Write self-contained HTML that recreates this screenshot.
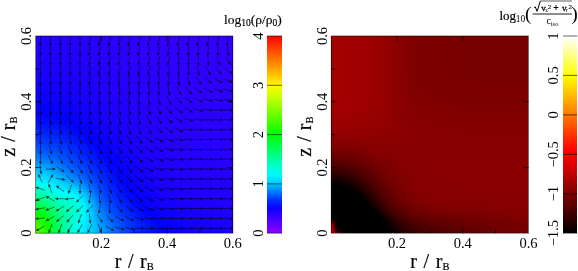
<!DOCTYPE html>
<html><head><meta charset="utf-8"><style>
html,body{margin:0;padding:0;background:#fff}
body{width:578px;height:271px;overflow:hidden;position:relative;font-family:"Liberation Serif",serif}
.hm{position:absolute}
.hm div{width:100%}
svg{position:absolute;left:0;top:0;will-change:transform}
svg text{font-family:"Liberation Serif",serif;fill:#000}
</style></head><body>
<div class="hm" style="left:36px;top:36px;width:197px;height:197px">
<div style="height:2px;background:linear-gradient(90deg,#2400ff 0px,#2400ff 6px,#2400ff 12px,#2400ff 18px,#2500ff 24px,#2500ff 30px,#2600ff 36px,#2700ff 42px,#2700ff 48px,#2800ff 54px,#2900ff 60px,#2a00ff 66px,#2b00ff 72px,#2c00ff 78px,#2c00ff 84px,#2d00ff 90px,#2e00ff 96px,#2e00ff 102px,#2f00ff 108px,#2f00ff 114px,#3000ff 120px,#3000ff 126px,#3100ff 132px,#3100ff 138px,#3100ff 144px,#3200ff 150px,#3200ff 156px,#3200ff 162px,#3200ff 168px,#3200ff 174px,#3200ff 180px,#3300ff 186px,#3300ff 192px,#3300ff 197px)"></div>
<div style="height:2px;background:linear-gradient(90deg,#2300ff 0px,#2300ff 6px,#2400ff 12px,#2400ff 18px,#2400ff 24px,#2500ff 30px,#2600ff 36px,#2600ff 42px,#2700ff 48px,#2800ff 54px,#2900ff 60px,#2a00ff 66px,#2b00ff 72px,#2b00ff 78px,#2c00ff 84px,#2d00ff 90px,#2e00ff 96px,#2e00ff 102px,#2f00ff 108px,#2f00ff 114px,#3000ff 120px,#3000ff 126px,#3100ff 132px,#3100ff 138px,#3100ff 144px,#3100ff 150px,#3200ff 156px,#3200ff 162px,#3200ff 168px,#3200ff 174px,#3200ff 180px,#3200ff 186px,#3200ff 192px,#3200ff 197px)"></div>
<div style="height:2px;background:linear-gradient(90deg,#2300ff 0px,#2300ff 6px,#2300ff 12px,#2400ff 18px,#2400ff 24px,#2500ff 30px,#2500ff 36px,#2600ff 42px,#2700ff 48px,#2800ff 54px,#2900ff 60px,#2900ff 66px,#2a00ff 72px,#2b00ff 78px,#2c00ff 84px,#2d00ff 90px,#2d00ff 96px,#2e00ff 102px,#2f00ff 108px,#2f00ff 114px,#3000ff 120px,#3000ff 126px,#3000ff 132px,#3100ff 138px,#3100ff 144px,#3100ff 150px,#3200ff 156px,#3200ff 162px,#3200ff 168px,#3200ff 174px,#3200ff 180px,#3200ff 186px,#3200ff 192px,#3200ff 197px)"></div>
<div style="height:2px;background:linear-gradient(90deg,#2300ff 0px,#2300ff 6px,#2300ff 12px,#2300ff 18px,#2400ff 24px,#2400ff 30px,#2500ff 36px,#2600ff 42px,#2700ff 48px,#2700ff 54px,#2800ff 60px,#2900ff 66px,#2a00ff 72px,#2b00ff 78px,#2c00ff 84px,#2c00ff 90px,#2d00ff 96px,#2e00ff 102px,#2e00ff 108px,#2f00ff 114px,#2f00ff 120px,#3000ff 126px,#3000ff 132px,#3100ff 138px,#3100ff 144px,#3100ff 150px,#3100ff 156px,#3200ff 162px,#3200ff 168px,#3200ff 174px,#3200ff 180px,#3200ff 186px,#3200ff 192px,#3200ff 197px)"></div>
<div style="height:2px;background:linear-gradient(90deg,#2200ff 0px,#2200ff 6px,#2200ff 12px,#2300ff 18px,#2300ff 24px,#2400ff 30px,#2500ff 36px,#2500ff 42px,#2600ff 48px,#2700ff 54px,#2800ff 60px,#2900ff 66px,#2a00ff 72px,#2b00ff 78px,#2b00ff 84px,#2c00ff 90px,#2d00ff 96px,#2e00ff 102px,#2e00ff 108px,#2f00ff 114px,#2f00ff 120px,#3000ff 126px,#3000ff 132px,#3000ff 138px,#3100ff 144px,#3100ff 150px,#3100ff 156px,#3100ff 162px,#3100ff 168px,#3200ff 174px,#3200ff 180px,#3200ff 186px,#3200ff 192px,#3200ff 197px)"></div>
<div style="height:2px;background:linear-gradient(90deg,#2200ff 0px,#2200ff 6px,#2200ff 12px,#2200ff 18px,#2300ff 24px,#2300ff 30px,#2400ff 36px,#2500ff 42px,#2600ff 48px,#2700ff 54px,#2800ff 60px,#2900ff 66px,#2900ff 72px,#2a00ff 78px,#2b00ff 84px,#2c00ff 90px,#2d00ff 96px,#2d00ff 102px,#2e00ff 108px,#2f00ff 114px,#2f00ff 120px,#2f00ff 126px,#3000ff 132px,#3000ff 138px,#3000ff 144px,#3100ff 150px,#3100ff 156px,#3100ff 162px,#3100ff 168px,#3100ff 174px,#3200ff 180px,#3200ff 186px,#3200ff 192px,#3200ff 197px)"></div>
<div style="height:2px;background:linear-gradient(90deg,#2100ff 0px,#2100ff 6px,#2100ff 12px,#2200ff 18px,#2200ff 24px,#2300ff 30px,#2400ff 36px,#2500ff 42px,#2600ff 48px,#2600ff 54px,#2700ff 60px,#2800ff 66px,#2900ff 72px,#2a00ff 78px,#2b00ff 84px,#2c00ff 90px,#2c00ff 96px,#2d00ff 102px,#2e00ff 108px,#2e00ff 114px,#2f00ff 120px,#2f00ff 126px,#3000ff 132px,#3000ff 138px,#3000ff 144px,#3100ff 150px,#3100ff 156px,#3100ff 162px,#3100ff 168px,#3100ff 174px,#3100ff 180px,#3100ff 186px,#3200ff 192px,#3200ff 197px)"></div>
<div style="height:2px;background:linear-gradient(90deg,#2100ff 0px,#2100ff 6px,#2100ff 12px,#2100ff 18px,#2200ff 24px,#2300ff 30px,#2300ff 36px,#2400ff 42px,#2500ff 48px,#2600ff 54px,#2700ff 60px,#2800ff 66px,#2900ff 72px,#2a00ff 78px,#2b00ff 84px,#2b00ff 90px,#2c00ff 96px,#2d00ff 102px,#2e00ff 108px,#2e00ff 114px,#2f00ff 120px,#2f00ff 126px,#2f00ff 132px,#3000ff 138px,#3000ff 144px,#3000ff 150px,#3100ff 156px,#3100ff 162px,#3100ff 168px,#3100ff 174px,#3100ff 180px,#3100ff 186px,#3100ff 192px,#3100ff 197px)"></div>
<div style="height:2px;background:linear-gradient(90deg,#2000ff 0px,#2000ff 6px,#2100ff 12px,#2100ff 18px,#2100ff 24px,#2200ff 30px,#2300ff 36px,#2400ff 42px,#2500ff 48px,#2600ff 54px,#2700ff 60px,#2800ff 66px,#2900ff 72px,#2a00ff 78px,#2a00ff 84px,#2b00ff 90px,#2c00ff 96px,#2d00ff 102px,#2d00ff 108px,#2e00ff 114px,#2e00ff 120px,#2f00ff 126px,#2f00ff 132px,#3000ff 138px,#3000ff 144px,#3000ff 150px,#3000ff 156px,#3100ff 162px,#3100ff 168px,#3100ff 174px,#3100ff 180px,#3100ff 186px,#3100ff 192px,#3100ff 197px)"></div>
<div style="height:2px;background:linear-gradient(90deg,#2000ff 0px,#2000ff 6px,#2000ff 12px,#2000ff 18px,#2100ff 24px,#2200ff 30px,#2300ff 36px,#2300ff 42px,#2400ff 48px,#2500ff 54px,#2600ff 60px,#2700ff 66px,#2800ff 72px,#2900ff 78px,#2a00ff 84px,#2b00ff 90px,#2c00ff 96px,#2d00ff 102px,#2d00ff 108px,#2e00ff 114px,#2e00ff 120px,#2f00ff 126px,#2f00ff 132px,#2f00ff 138px,#3000ff 144px,#3000ff 150px,#3000ff 156px,#3000ff 162px,#3100ff 168px,#3100ff 174px,#3100ff 180px,#3100ff 186px,#3100ff 192px,#3100ff 197px)"></div>
<div style="height:2px;background:linear-gradient(90deg,#1f00ff 0px,#1f00ff 6px,#1f00ff 12px,#2000ff 18px,#2000ff 24px,#2100ff 30px,#2200ff 36px,#2300ff 42px,#2400ff 48px,#2500ff 54px,#2600ff 60px,#2700ff 66px,#2800ff 72px,#2900ff 78px,#2a00ff 84px,#2b00ff 90px,#2c00ff 96px,#2c00ff 102px,#2d00ff 108px,#2e00ff 114px,#2e00ff 120px,#2e00ff 126px,#2f00ff 132px,#2f00ff 138px,#3000ff 144px,#3000ff 150px,#3000ff 156px,#3000ff 162px,#3000ff 168px,#3100ff 174px,#3100ff 180px,#3100ff 186px,#3100ff 192px,#3100ff 197px)"></div>
<div style="height:2px;background:linear-gradient(90deg,#1e00ff 0px,#1f00ff 6px,#1f00ff 12px,#1f00ff 18px,#2000ff 24px,#2100ff 30px,#2200ff 36px,#2300ff 42px,#2400ff 48px,#2500ff 54px,#2600ff 60px,#2700ff 66px,#2800ff 72px,#2900ff 78px,#2a00ff 84px,#2b00ff 90px,#2b00ff 96px,#2c00ff 102px,#2d00ff 108px,#2d00ff 114px,#2e00ff 120px,#2e00ff 126px,#2f00ff 132px,#2f00ff 138px,#2f00ff 144px,#3000ff 150px,#3000ff 156px,#3000ff 162px,#3000ff 168px,#3000ff 174px,#3000ff 180px,#3100ff 186px,#3100ff 192px,#3100ff 197px)"></div>
<div style="height:2px;background:linear-gradient(90deg,#1e00ff 0px,#1e00ff 6px,#1e00ff 12px,#1f00ff 18px,#1f00ff 24px,#2000ff 30px,#2100ff 36px,#2200ff 42px,#2300ff 48px,#2400ff 54px,#2500ff 60px,#2600ff 66px,#2700ff 72px,#2800ff 78px,#2900ff 84px,#2a00ff 90px,#2b00ff 96px,#2c00ff 102px,#2d00ff 108px,#2d00ff 114px,#2e00ff 120px,#2e00ff 126px,#2f00ff 132px,#2f00ff 138px,#2f00ff 144px,#2f00ff 150px,#3000ff 156px,#3000ff 162px,#3000ff 168px,#3000ff 174px,#3000ff 180px,#3000ff 186px,#3000ff 192px,#3100ff 197px)"></div>
<div style="height:2px;background:linear-gradient(90deg,#1d00ff 0px,#1d00ff 6px,#1e00ff 12px,#1e00ff 18px,#1f00ff 24px,#2000ff 30px,#2100ff 36px,#2200ff 42px,#2300ff 48px,#2400ff 54px,#2500ff 60px,#2600ff 66px,#2700ff 72px,#2800ff 78px,#2900ff 84px,#2a00ff 90px,#2b00ff 96px,#2c00ff 102px,#2c00ff 108px,#2d00ff 114px,#2d00ff 120px,#2e00ff 126px,#2e00ff 132px,#2f00ff 138px,#2f00ff 144px,#2f00ff 150px,#2f00ff 156px,#3000ff 162px,#3000ff 168px,#3000ff 174px,#3000ff 180px,#3000ff 186px,#3000ff 192px,#3000ff 197px)"></div>
<div style="height:2px;background:linear-gradient(90deg,#1d00ff 0px,#1d00ff 6px,#1d00ff 12px,#1e00ff 18px,#1e00ff 24px,#1f00ff 30px,#2000ff 36px,#2100ff 42px,#2200ff 48px,#2300ff 54px,#2500ff 60px,#2600ff 66px,#2700ff 72px,#2800ff 78px,#2900ff 84px,#2a00ff 90px,#2b00ff 96px,#2b00ff 102px,#2c00ff 108px,#2d00ff 114px,#2d00ff 120px,#2e00ff 126px,#2e00ff 132px,#2f00ff 138px,#2f00ff 144px,#2f00ff 150px,#2f00ff 156px,#3000ff 162px,#3000ff 168px,#3000ff 174px,#3000ff 180px,#3000ff 186px,#3000ff 192px,#3000ff 197px)"></div>
<div style="height:2px;background:linear-gradient(90deg,#1c00ff 0px,#1c00ff 6px,#1c00ff 12px,#1d00ff 18px,#1e00ff 24px,#1e00ff 30px,#1f00ff 36px,#2100ff 42px,#2200ff 48px,#2300ff 54px,#2400ff 60px,#2500ff 66px,#2600ff 72px,#2800ff 78px,#2900ff 84px,#2a00ff 90px,#2a00ff 96px,#2b00ff 102px,#2c00ff 108px,#2c00ff 114px,#2d00ff 120px,#2e00ff 126px,#2e00ff 132px,#2e00ff 138px,#2f00ff 144px,#2f00ff 150px,#2f00ff 156px,#2f00ff 162px,#2f00ff 168px,#3000ff 174px,#3000ff 180px,#3000ff 186px,#3000ff 192px,#3000ff 197px)"></div>
<div style="height:2px;background:linear-gradient(90deg,#1b00ff 0px,#1b00ff 6px,#1c00ff 12px,#1c00ff 18px,#1d00ff 24px,#1e00ff 30px,#1f00ff 36px,#2000ff 42px,#2100ff 48px,#2200ff 54px,#2400ff 60px,#2500ff 66px,#2600ff 72px,#2700ff 78px,#2800ff 84px,#2900ff 90px,#2a00ff 96px,#2b00ff 102px,#2c00ff 108px,#2c00ff 114px,#2d00ff 120px,#2d00ff 126px,#2e00ff 132px,#2e00ff 138px,#2e00ff 144px,#2f00ff 150px,#2f00ff 156px,#2f00ff 162px,#2f00ff 168px,#2f00ff 174px,#3000ff 180px,#3000ff 186px,#3000ff 192px,#3000ff 197px)"></div>
<div style="height:2px;background:linear-gradient(90deg,#1a00ff 0px,#1b00ff 6px,#1b00ff 12px,#1b00ff 18px,#1c00ff 24px,#1d00ff 30px,#1e00ff 36px,#1f00ff 42px,#2100ff 48px,#2200ff 54px,#2300ff 60px,#2500ff 66px,#2600ff 72px,#2700ff 78px,#2800ff 84px,#2900ff 90px,#2a00ff 96px,#2b00ff 102px,#2b00ff 108px,#2c00ff 114px,#2d00ff 120px,#2d00ff 126px,#2e00ff 132px,#2e00ff 138px,#2e00ff 144px,#2f00ff 150px,#2f00ff 156px,#2f00ff 162px,#2f00ff 168px,#2f00ff 174px,#2f00ff 180px,#2f00ff 186px,#3000ff 192px,#3000ff 197px)"></div>
<div style="height:2px;background:linear-gradient(90deg,#1a00ff 0px,#1a00ff 6px,#1a00ff 12px,#1b00ff 18px,#1c00ff 24px,#1d00ff 30px,#1e00ff 36px,#1f00ff 42px,#2000ff 48px,#2200ff 54px,#2300ff 60px,#2400ff 66px,#2500ff 72px,#2700ff 78px,#2800ff 84px,#2900ff 90px,#2a00ff 96px,#2a00ff 102px,#2b00ff 108px,#2c00ff 114px,#2c00ff 120px,#2d00ff 126px,#2d00ff 132px,#2e00ff 138px,#2e00ff 144px,#2e00ff 150px,#2f00ff 156px,#2f00ff 162px,#2f00ff 168px,#2f00ff 174px,#2f00ff 180px,#2f00ff 186px,#2f00ff 192px,#2f00ff 197px)"></div>
<div style="height:2px;background:linear-gradient(90deg,#1900ff 0px,#1900ff 6px,#1900ff 12px,#1a00ff 18px,#1b00ff 24px,#1c00ff 30px,#1d00ff 36px,#1e00ff 42px,#2000ff 48px,#2100ff 54px,#2200ff 60px,#2400ff 66px,#2500ff 72px,#2600ff 78px,#2700ff 84px,#2800ff 90px,#2900ff 96px,#2a00ff 102px,#2b00ff 108px,#2c00ff 114px,#2c00ff 120px,#2d00ff 126px,#2d00ff 132px,#2e00ff 138px,#2e00ff 144px,#2e00ff 150px,#2e00ff 156px,#2f00ff 162px,#2f00ff 168px,#2f00ff 174px,#2f00ff 180px,#2f00ff 186px,#2f00ff 192px,#2f00ff 197px)"></div>
<div style="height:2px;background:linear-gradient(90deg,#1800ff 0px,#1800ff 6px,#1800ff 12px,#1900ff 18px,#1a00ff 24px,#1b00ff 30px,#1c00ff 36px,#1e00ff 42px,#1f00ff 48px,#2000ff 54px,#2200ff 60px,#2300ff 66px,#2500ff 72px,#2600ff 78px,#2700ff 84px,#2800ff 90px,#2900ff 96px,#2a00ff 102px,#2b00ff 108px,#2b00ff 114px,#2c00ff 120px,#2d00ff 126px,#2d00ff 132px,#2d00ff 138px,#2e00ff 144px,#2e00ff 150px,#2e00ff 156px,#2e00ff 162px,#2f00ff 168px,#2f00ff 174px,#2f00ff 180px,#2f00ff 186px,#2f00ff 192px,#2f00ff 197px)"></div>
<div style="height:2px;background:linear-gradient(90deg,#1700ff 0px,#1700ff 6px,#1800ff 12px,#1800ff 18px,#1900ff 24px,#1a00ff 30px,#1c00ff 36px,#1d00ff 42px,#1e00ff 48px,#2000ff 54px,#2100ff 60px,#2300ff 66px,#2400ff 72px,#2600ff 78px,#2700ff 84px,#2800ff 90px,#2900ff 96px,#2a00ff 102px,#2a00ff 108px,#2b00ff 114px,#2c00ff 120px,#2c00ff 126px,#2d00ff 132px,#2d00ff 138px,#2d00ff 144px,#2e00ff 150px,#2e00ff 156px,#2e00ff 162px,#2e00ff 168px,#2f00ff 174px,#2f00ff 180px,#2f00ff 186px,#2f00ff 192px,#2f00ff 197px)"></div>
<div style="height:2px;background:linear-gradient(90deg,#1600ff 0px,#1600ff 6px,#1700ff 12px,#1700ff 18px,#1800ff 24px,#1a00ff 30px,#1b00ff 36px,#1c00ff 42px,#1e00ff 48px,#1f00ff 54px,#2100ff 60px,#2200ff 66px,#2400ff 72px,#2500ff 78px,#2600ff 84px,#2800ff 90px,#2900ff 96px,#2900ff 102px,#2a00ff 108px,#2b00ff 114px,#2c00ff 120px,#2c00ff 126px,#2d00ff 132px,#2d00ff 138px,#2d00ff 144px,#2e00ff 150px,#2e00ff 156px,#2e00ff 162px,#2e00ff 168px,#2e00ff 174px,#2e00ff 180px,#2f00ff 186px,#2f00ff 192px,#2f00ff 197px)"></div>
<div style="height:2px;background:linear-gradient(90deg,#1500ff 0px,#1500ff 6px,#1600ff 12px,#1600ff 18px,#1700ff 24px,#1900ff 30px,#1a00ff 36px,#1c00ff 42px,#1d00ff 48px,#1f00ff 54px,#2000ff 60px,#2200ff 66px,#2300ff 72px,#2500ff 78px,#2600ff 84px,#2700ff 90px,#2800ff 96px,#2900ff 102px,#2a00ff 108px,#2b00ff 114px,#2b00ff 120px,#2c00ff 126px,#2c00ff 132px,#2d00ff 138px,#2d00ff 144px,#2d00ff 150px,#2e00ff 156px,#2e00ff 162px,#2e00ff 168px,#2e00ff 174px,#2e00ff 180px,#2e00ff 186px,#2e00ff 192px,#2f00ff 197px)"></div>
<div style="height:2px;background:linear-gradient(90deg,#1400ff 0px,#1400ff 6px,#1500ff 12px,#1500ff 18px,#1700ff 24px,#1800ff 30px,#1900ff 36px,#1b00ff 42px,#1c00ff 48px,#1e00ff 54px,#2000ff 60px,#2100ff 66px,#2300ff 72px,#2400ff 78px,#2600ff 84px,#2700ff 90px,#2800ff 96px,#2900ff 102px,#2a00ff 108px,#2b00ff 114px,#2b00ff 120px,#2c00ff 126px,#2c00ff 132px,#2d00ff 138px,#2d00ff 144px,#2d00ff 150px,#2d00ff 156px,#2e00ff 162px,#2e00ff 168px,#2e00ff 174px,#2e00ff 180px,#2e00ff 186px,#2e00ff 192px,#2e00ff 197px)"></div>
<div style="height:2px;background:linear-gradient(90deg,#1300ff 0px,#1300ff 6px,#1400ff 12px,#1400ff 18px,#1600ff 24px,#1700ff 30px,#1800ff 36px,#1a00ff 42px,#1c00ff 48px,#1d00ff 54px,#1f00ff 60px,#2100ff 66px,#2200ff 72px,#2400ff 78px,#2500ff 84px,#2700ff 90px,#2800ff 96px,#2900ff 102px,#2a00ff 108px,#2a00ff 114px,#2b00ff 120px,#2b00ff 126px,#2c00ff 132px,#2c00ff 138px,#2d00ff 144px,#2d00ff 150px,#2d00ff 156px,#2d00ff 162px,#2e00ff 168px,#2e00ff 174px,#2e00ff 180px,#2e00ff 186px,#2e00ff 192px,#2e00ff 197px)"></div>
<div style="height:2px;background:linear-gradient(90deg,#1200ff 0px,#1200ff 6px,#1300ff 12px,#1300ff 18px,#1500ff 24px,#1600ff 30px,#1700ff 36px,#1900ff 42px,#1b00ff 48px,#1d00ff 54px,#1f00ff 60px,#2000ff 66px,#2200ff 72px,#2400ff 78px,#2500ff 84px,#2600ff 90px,#2700ff 96px,#2800ff 102px,#2900ff 108px,#2a00ff 114px,#2b00ff 120px,#2b00ff 126px,#2c00ff 132px,#2c00ff 138px,#2d00ff 144px,#2d00ff 150px,#2d00ff 156px,#2d00ff 162px,#2d00ff 168px,#2e00ff 174px,#2e00ff 180px,#2e00ff 186px,#2e00ff 192px,#2e00ff 197px)"></div>
<div style="height:2px;background:linear-gradient(90deg,#1100ff 0px,#1100ff 6px,#1100ff 12px,#1200ff 18px,#1300ff 24px,#1500ff 30px,#1700ff 36px,#1800ff 42px,#1a00ff 48px,#1c00ff 54px,#1e00ff 60px,#2000ff 66px,#2100ff 72px,#2300ff 78px,#2500ff 84px,#2600ff 90px,#2700ff 96px,#2800ff 102px,#2900ff 108px,#2a00ff 114px,#2a00ff 120px,#2b00ff 126px,#2c00ff 132px,#2c00ff 138px,#2c00ff 144px,#2d00ff 150px,#2d00ff 156px,#2d00ff 162px,#2d00ff 168px,#2d00ff 174px,#2e00ff 180px,#2e00ff 186px,#2e00ff 192px,#2e00ff 197px)"></div>
<div style="height:2px;background:linear-gradient(90deg,#0f00ff 0px,#1000ff 6px,#1000ff 12px,#1100ff 18px,#1200ff 24px,#1400ff 30px,#1600ff 36px,#1700ff 42px,#1900ff 48px,#1b00ff 54px,#1d00ff 60px,#1f00ff 66px,#2100ff 72px,#2300ff 78px,#2400ff 84px,#2500ff 90px,#2700ff 96px,#2800ff 102px,#2900ff 108px,#2a00ff 114px,#2a00ff 120px,#2b00ff 126px,#2b00ff 132px,#2c00ff 138px,#2c00ff 144px,#2c00ff 150px,#2d00ff 156px,#2d00ff 162px,#2d00ff 168px,#2d00ff 174px,#2d00ff 180px,#2d00ff 186px,#2e00ff 192px,#2e00ff 197px)"></div>
<div style="height:2px;background:linear-gradient(90deg,#0e00ff 0px,#0e00ff 6px,#0f00ff 12px,#1000ff 18px,#1100ff 24px,#1300ff 30px,#1500ff 36px,#1700ff 42px,#1900ff 48px,#1b00ff 54px,#1d00ff 60px,#1f00ff 66px,#2000ff 72px,#2200ff 78px,#2400ff 84px,#2500ff 90px,#2600ff 96px,#2700ff 102px,#2800ff 108px,#2900ff 114px,#2a00ff 120px,#2b00ff 126px,#2b00ff 132px,#2c00ff 138px,#2c00ff 144px,#2c00ff 150px,#2d00ff 156px,#2d00ff 162px,#2d00ff 168px,#2d00ff 174px,#2d00ff 180px,#2d00ff 186px,#2d00ff 192px,#2d00ff 197px)"></div>
<div style="height:2px;background:linear-gradient(90deg,#0d00ff 0px,#0d00ff 6px,#0e00ff 12px,#0f00ff 18px,#1000ff 24px,#1200ff 30px,#1400ff 36px,#1600ff 42px,#1800ff 48px,#1a00ff 54px,#1c00ff 60px,#1e00ff 66px,#2000ff 72px,#2200ff 78px,#2300ff 84px,#2500ff 90px,#2600ff 96px,#2700ff 102px,#2800ff 108px,#2900ff 114px,#2a00ff 120px,#2a00ff 126px,#2b00ff 132px,#2b00ff 138px,#2c00ff 144px,#2c00ff 150px,#2c00ff 156px,#2d00ff 162px,#2d00ff 168px,#2d00ff 174px,#2d00ff 180px,#2d00ff 186px,#2d00ff 192px,#2d00ff 197px)"></div>
<div style="height:2px;background:linear-gradient(90deg,#0b00ff 0px,#0c00ff 6px,#0c00ff 12px,#0d00ff 18px,#0f00ff 24px,#1000ff 30px,#1200ff 36px,#1500ff 42px,#1700ff 48px,#1900ff 54px,#1b00ff 60px,#1d00ff 66px,#1f00ff 72px,#2100ff 78px,#2300ff 84px,#2400ff 90px,#2600ff 96px,#2700ff 102px,#2800ff 108px,#2900ff 114px,#2a00ff 120px,#2a00ff 126px,#2b00ff 132px,#2b00ff 138px,#2c00ff 144px,#2c00ff 150px,#2c00ff 156px,#2c00ff 162px,#2d00ff 168px,#2d00ff 174px,#2d00ff 180px,#2d00ff 186px,#2d00ff 192px,#2d00ff 197px)"></div>
<div style="height:2px;background:linear-gradient(90deg,#0a00ff 0px,#0a00ff 6px,#0b00ff 12px,#0c00ff 18px,#0d00ff 24px,#0f00ff 30px,#1100ff 36px,#1400ff 42px,#1600ff 48px,#1800ff 54px,#1a00ff 60px,#1d00ff 66px,#1f00ff 72px,#2100ff 78px,#2200ff 84px,#2400ff 90px,#2500ff 96px,#2700ff 102px,#2800ff 108px,#2800ff 114px,#2900ff 120px,#2a00ff 126px,#2a00ff 132px,#2b00ff 138px,#2b00ff 144px,#2c00ff 150px,#2c00ff 156px,#2c00ff 162px,#2c00ff 168px,#2d00ff 174px,#2d00ff 180px,#2d00ff 186px,#2d00ff 192px,#2d00ff 197px)"></div>
<div style="height:2px;background:linear-gradient(90deg,#0800ff 0px,#0900ff 6px,#0900ff 12px,#0b00ff 18px,#0c00ff 24px,#0e00ff 30px,#1000ff 36px,#1200ff 42px,#1500ff 48px,#1700ff 54px,#1a00ff 60px,#1c00ff 66px,#1e00ff 72px,#2000ff 78px,#2200ff 84px,#2300ff 90px,#2500ff 96px,#2600ff 102px,#2700ff 108px,#2800ff 114px,#2900ff 120px,#2a00ff 126px,#2a00ff 132px,#2b00ff 138px,#2b00ff 144px,#2b00ff 150px,#2c00ff 156px,#2c00ff 162px,#2c00ff 168px,#2c00ff 174px,#2c00ff 180px,#2d00ff 186px,#2d00ff 192px,#2d00ff 197px)"></div>
<div style="height:2px;background:linear-gradient(90deg,#0700ff 0px,#0700ff 6px,#0800ff 12px,#0900ff 18px,#0b00ff 24px,#0d00ff 30px,#0f00ff 36px,#1100ff 42px,#1400ff 48px,#1600ff 54px,#1900ff 60px,#1b00ff 66px,#1d00ff 72px,#1f00ff 78px,#2100ff 84px,#2300ff 90px,#2500ff 96px,#2600ff 102px,#2700ff 108px,#2800ff 114px,#2900ff 120px,#2900ff 126px,#2a00ff 132px,#2b00ff 138px,#2b00ff 144px,#2b00ff 150px,#2c00ff 156px,#2c00ff 162px,#2c00ff 168px,#2c00ff 174px,#2c00ff 180px,#2c00ff 186px,#2c00ff 192px,#2d00ff 197px)"></div>
<div style="height:2px;background:linear-gradient(90deg,#0500ff 0px,#0500ff 6px,#0600ff 12px,#0700ff 18px,#0900ff 24px,#0b00ff 30px,#0e00ff 36px,#1000ff 42px,#1300ff 48px,#1500ff 54px,#1800ff 60px,#1a00ff 66px,#1d00ff 72px,#1f00ff 78px,#2100ff 84px,#2300ff 90px,#2400ff 96px,#2500ff 102px,#2700ff 108px,#2800ff 114px,#2800ff 120px,#2900ff 126px,#2a00ff 132px,#2a00ff 138px,#2b00ff 144px,#2b00ff 150px,#2b00ff 156px,#2c00ff 162px,#2c00ff 168px,#2c00ff 174px,#2c00ff 180px,#2c00ff 186px,#2c00ff 192px,#2c00ff 197px)"></div>
<div style="height:2px;background:linear-gradient(90deg,#0300ff 0px,#0400ff 6px,#0500ff 12px,#0600ff 18px,#0800ff 24px,#0a00ff 30px,#0c00ff 36px,#0f00ff 42px,#1200ff 48px,#1400ff 54px,#1700ff 60px,#1a00ff 66px,#1c00ff 72px,#1e00ff 78px,#2000ff 84px,#2200ff 90px,#2400ff 96px,#2500ff 102px,#2600ff 108px,#2700ff 114px,#2800ff 120px,#2900ff 126px,#2a00ff 132px,#2a00ff 138px,#2b00ff 144px,#2b00ff 150px,#2b00ff 156px,#2b00ff 162px,#2c00ff 168px,#2c00ff 174px,#2c00ff 180px,#2c00ff 186px,#2c00ff 192px,#2c00ff 197px)"></div>
<div style="height:2px;background:linear-gradient(90deg,#0200ff 0px,#0200ff 6px,#0300ff 12px,#0400ff 18px,#0600ff 24px,#0800ff 30px,#0b00ff 36px,#0e00ff 42px,#1000ff 48px,#1300ff 54px,#1600ff 60px,#1900ff 66px,#1b00ff 72px,#1e00ff 78px,#2000ff 84px,#2200ff 90px,#2300ff 96px,#2500ff 102px,#2600ff 108px,#2700ff 114px,#2800ff 120px,#2900ff 126px,#2900ff 132px,#2a00ff 138px,#2a00ff 144px,#2b00ff 150px,#2b00ff 156px,#2b00ff 162px,#2b00ff 168px,#2c00ff 174px,#2c00ff 180px,#2c00ff 186px,#2c00ff 192px,#2c00ff 197px)"></div>
<div style="height:2px;background:linear-gradient(90deg,#0000ff 0px,#0000ff 6px,#0100ff 12px,#0200ff 18px,#0400ff 24px,#0700ff 30px,#0900ff 36px,#0c00ff 42px,#0f00ff 48px,#1200ff 54px,#1500ff 60px,#1800ff 66px,#1b00ff 72px,#1d00ff 78px,#1f00ff 84px,#2100ff 90px,#2300ff 96px,#2400ff 102px,#2600ff 108px,#2700ff 114px,#2800ff 120px,#2800ff 126px,#2900ff 132px,#2a00ff 138px,#2a00ff 144px,#2a00ff 150px,#2b00ff 156px,#2b00ff 162px,#2b00ff 168px,#2b00ff 174px,#2c00ff 180px,#2c00ff 186px,#2c00ff 192px,#2c00ff 197px)"></div>
<div style="height:2px;background:linear-gradient(90deg,#0004ff 0px,#0003ff 6px,#0002ff 12px,#0100ff 18px,#0300ff 24px,#0500ff 30px,#0800ff 36px,#0b00ff 42px,#0e00ff 48px,#1100ff 54px,#1400ff 60px,#1700ff 66px,#1a00ff 72px,#1c00ff 78px,#1f00ff 84px,#2100ff 90px,#2200ff 96px,#2400ff 102px,#2500ff 108px,#2600ff 114px,#2700ff 120px,#2800ff 126px,#2900ff 132px,#2900ff 138px,#2a00ff 144px,#2a00ff 150px,#2b00ff 156px,#2b00ff 162px,#2b00ff 168px,#2b00ff 174px,#2b00ff 180px,#2b00ff 186px,#2c00ff 192px,#2c00ff 197px)"></div>
<div style="height:2px;background:linear-gradient(90deg,#0007ff 0px,#0006ff 6px,#0005ff 12px,#0002ff 18px,#0100ff 24px,#0300ff 30px,#0600ff 36px,#0900ff 42px,#0d00ff 48px,#1000ff 54px,#1300ff 60px,#1600ff 66px,#1900ff 72px,#1c00ff 78px,#1e00ff 84px,#2000ff 90px,#2200ff 96px,#2400ff 102px,#2500ff 108px,#2600ff 114px,#2700ff 120px,#2800ff 126px,#2900ff 132px,#2900ff 138px,#2a00ff 144px,#2a00ff 150px,#2a00ff 156px,#2b00ff 162px,#2b00ff 168px,#2b00ff 174px,#2b00ff 180px,#2b00ff 186px,#2b00ff 192px,#2b00ff 197px)"></div>
<div style="height:2px;background:linear-gradient(90deg,#000aff 0px,#000aff 6px,#0008ff 12px,#0005ff 18px,#0002ff 24px,#0200ff 30px,#0500ff 36px,#0800ff 42px,#0b00ff 48px,#0f00ff 54px,#1200ff 60px,#1500ff 66px,#1800ff 72px,#1b00ff 78px,#1d00ff 84px,#2000ff 90px,#2100ff 96px,#2300ff 102px,#2500ff 108px,#2600ff 114px,#2700ff 120px,#2800ff 126px,#2800ff 132px,#2900ff 138px,#2900ff 144px,#2a00ff 150px,#2a00ff 156px,#2a00ff 162px,#2b00ff 168px,#2b00ff 174px,#2b00ff 180px,#2b00ff 186px,#2b00ff 192px,#2b00ff 197px)"></div>
<div style="height:2px;background:linear-gradient(90deg,#000eff 0px,#000dff 6px,#000bff 12px,#0009ff 18px,#0005ff 24px,#0000ff 30px,#0300ff 36px,#0600ff 42px,#0a00ff 48px,#0d00ff 54px,#1100ff 60px,#1400ff 66px,#1700ff 72px,#1a00ff 78px,#1d00ff 84px,#1f00ff 90px,#2100ff 96px,#2300ff 102px,#2400ff 108px,#2500ff 114px,#2600ff 120px,#2700ff 126px,#2800ff 132px,#2900ff 138px,#2900ff 144px,#2a00ff 150px,#2a00ff 156px,#2a00ff 162px,#2a00ff 168px,#2b00ff 174px,#2b00ff 180px,#2b00ff 186px,#2b00ff 192px,#2b00ff 197px)"></div>
<div style="height:2px;background:linear-gradient(90deg,#0011ff 0px,#0011ff 6px,#000fff 12px,#000cff 18px,#0008ff 24px,#0003ff 30px,#0100ff 36px,#0500ff 42px,#0800ff 48px,#0c00ff 54px,#1000ff 60px,#1300ff 66px,#1600ff 72px,#1900ff 78px,#1c00ff 84px,#1e00ff 90px,#2000ff 96px,#2200ff 102px,#2400ff 108px,#2500ff 114px,#2600ff 120px,#2700ff 126px,#2800ff 132px,#2800ff 138px,#2900ff 144px,#2900ff 150px,#2a00ff 156px,#2a00ff 162px,#2a00ff 168px,#2a00ff 174px,#2b00ff 180px,#2b00ff 186px,#2b00ff 192px,#2b00ff 197px)"></div>
<div style="height:2px;background:linear-gradient(90deg,#0015ff 0px,#0015ff 6px,#0013ff 12px,#0010ff 18px,#000bff 24px,#0007ff 30px,#0001ff 36px,#0300ff 42px,#0700ff 48px,#0b00ff 54px,#0e00ff 60px,#1200ff 66px,#1500ff 72px,#1800ff 78px,#1b00ff 84px,#1e00ff 90px,#2000ff 96px,#2200ff 102px,#2300ff 108px,#2500ff 114px,#2600ff 120px,#2700ff 126px,#2800ff 132px,#2800ff 138px,#2900ff 144px,#2900ff 150px,#2900ff 156px,#2a00ff 162px,#2a00ff 168px,#2a00ff 174px,#2a00ff 180px,#2a00ff 186px,#2b00ff 192px,#2b00ff 197px)"></div>
<div style="height:2px;background:linear-gradient(90deg,#0019ff 0px,#0018ff 6px,#0016ff 12px,#0013ff 18px,#000fff 24px,#000aff 30px,#0004ff 36px,#0100ff 42px,#0500ff 48px,#0900ff 54px,#0d00ff 60px,#1100ff 66px,#1400ff 72px,#1800ff 78px,#1b00ff 84px,#1d00ff 90px,#1f00ff 96px,#2100ff 102px,#2300ff 108px,#2400ff 114px,#2500ff 120px,#2600ff 126px,#2700ff 132px,#2800ff 138px,#2800ff 144px,#2900ff 150px,#2900ff 156px,#2a00ff 162px,#2a00ff 168px,#2a00ff 174px,#2a00ff 180px,#2a00ff 186px,#2a00ff 192px,#2a00ff 197px)"></div>
<div style="height:2px;background:linear-gradient(90deg,#001dff 0px,#001dff 6px,#001aff 12px,#0017ff 18px,#0013ff 24px,#000dff 30px,#0007ff 36px,#0001ff 42px,#0400ff 48px,#0800ff 54px,#0c00ff 60px,#1000ff 66px,#1300ff 72px,#1700ff 78px,#1a00ff 84px,#1c00ff 90px,#1f00ff 96px,#2100ff 102px,#2200ff 108px,#2400ff 114px,#2500ff 120px,#2600ff 126px,#2700ff 132px,#2800ff 138px,#2800ff 144px,#2900ff 150px,#2900ff 156px,#2900ff 162px,#2a00ff 168px,#2a00ff 174px,#2a00ff 180px,#2a00ff 186px,#2a00ff 192px,#2a00ff 197px)"></div>
<div style="height:2px;background:linear-gradient(90deg,#0022ff 0px,#0021ff 6px,#001fff 12px,#001bff 18px,#0016ff 24px,#0011ff 30px,#000bff 36px,#0004ff 42px,#0200ff 48px,#0600ff 54px,#0a00ff 60px,#0f00ff 66px,#1200ff 72px,#1600ff 78px,#1900ff 84px,#1c00ff 90px,#1e00ff 96px,#2000ff 102px,#2200ff 108px,#2400ff 114px,#2500ff 120px,#2600ff 126px,#2700ff 132px,#2700ff 138px,#2800ff 144px,#2800ff 150px,#2900ff 156px,#2900ff 162px,#2900ff 168px,#2a00ff 174px,#2a00ff 180px,#2a00ff 186px,#2a00ff 192px,#2a00ff 197px)"></div>
<div style="height:2px;background:linear-gradient(90deg,#0026ff 0px,#0025ff 6px,#0023ff 12px,#001fff 18px,#001aff 24px,#0014ff 30px,#000eff 36px,#0007ff 42px,#0000ff 48px,#0500ff 54px,#0900ff 60px,#0d00ff 66px,#1100ff 72px,#1500ff 78px,#1800ff 84px,#1b00ff 90px,#1e00ff 96px,#2000ff 102px,#2200ff 108px,#2300ff 114px,#2400ff 120px,#2500ff 126px,#2600ff 132px,#2700ff 138px,#2800ff 144px,#2800ff 150px,#2900ff 156px,#2900ff 162px,#2900ff 168px,#2900ff 174px,#2a00ff 180px,#2a00ff 186px,#2a00ff 192px,#2a00ff 197px)"></div>
<div style="height:2px;background:linear-gradient(90deg,#002bff 0px,#002aff 6px,#0027ff 12px,#0023ff 18px,#001eff 24px,#0018ff 30px,#0011ff 36px,#000aff 42px,#0003ff 48px,#0300ff 54px,#0800ff 60px,#0c00ff 66px,#1000ff 72px,#1400ff 78px,#1700ff 84px,#1a00ff 90px,#1d00ff 96px,#1f00ff 102px,#2100ff 108px,#2300ff 114px,#2400ff 120px,#2500ff 126px,#2600ff 132px,#2700ff 138px,#2700ff 144px,#2800ff 150px,#2800ff 156px,#2900ff 162px,#2900ff 168px,#2900ff 174px,#2900ff 180px,#2a00ff 186px,#2a00ff 192px,#2a00ff 197px)"></div>
<div style="height:2px;background:linear-gradient(90deg,#0030ff 0px,#002fff 6px,#002cff 12px,#0028ff 18px,#0023ff 24px,#001cff 30px,#0015ff 36px,#000eff 42px,#0006ff 48px,#0100ff 54px,#0600ff 60px,#0b00ff 66px,#0f00ff 72px,#1300ff 78px,#1600ff 84px,#1a00ff 90px,#1c00ff 96px,#1f00ff 102px,#2100ff 108px,#2200ff 114px,#2400ff 120px,#2500ff 126px,#2600ff 132px,#2700ff 138px,#2700ff 144px,#2800ff 150px,#2800ff 156px,#2900ff 162px,#2900ff 168px,#2900ff 174px,#2900ff 180px,#2900ff 186px,#2900ff 192px,#2a00ff 197px)"></div>
<div style="height:2px;background:linear-gradient(90deg,#0035ff 0px,#0034ff 6px,#0031ff 12px,#002dff 18px,#0027ff 24px,#0020ff 30px,#0019ff 36px,#0011ff 42px,#0009ff 48px,#0001ff 54px,#0500ff 60px,#0900ff 66px,#0e00ff 72px,#1200ff 78px,#1500ff 84px,#1900ff 90px,#1c00ff 96px,#1e00ff 102px,#2000ff 108px,#2200ff 114px,#2300ff 120px,#2400ff 126px,#2500ff 132px,#2600ff 138px,#2700ff 144px,#2700ff 150px,#2800ff 156px,#2800ff 162px,#2900ff 168px,#2900ff 174px,#2900ff 180px,#2900ff 186px,#2900ff 192px,#2900ff 197px)"></div>
<div style="height:2px;background:linear-gradient(90deg,#003aff 0px,#0039ff 6px,#0036ff 12px,#0031ff 18px,#002bff 24px,#0024ff 30px,#001dff 36px,#0015ff 42px,#000cff 48px,#0004ff 54px,#0300ff 60px,#0800ff 66px,#0c00ff 72px,#1100ff 78px,#1500ff 84px,#1800ff 90px,#1b00ff 96px,#1d00ff 102px,#2000ff 108px,#2100ff 114px,#2300ff 120px,#2400ff 126px,#2500ff 132px,#2600ff 138px,#2700ff 144px,#2700ff 150px,#2800ff 156px,#2800ff 162px,#2800ff 168px,#2900ff 174px,#2900ff 180px,#2900ff 186px,#2900ff 192px,#2900ff 197px)"></div>
<div style="height:2px;background:linear-gradient(90deg,#0040ff 0px,#003fff 6px,#003bff 12px,#0036ff 18px,#0030ff 24px,#0029ff 30px,#0021ff 36px,#0018ff 42px,#000fff 48px,#0007ff 54px,#0100ff 60px,#0600ff 66px,#0b00ff 72px,#1000ff 78px,#1400ff 84px,#1700ff 90px,#1a00ff 96px,#1d00ff 102px,#1f00ff 108px,#2100ff 114px,#2200ff 120px,#2400ff 126px,#2500ff 132px,#2600ff 138px,#2600ff 144px,#2700ff 150px,#2700ff 156px,#2800ff 162px,#2800ff 168px,#2800ff 174px,#2900ff 180px,#2900ff 186px,#2900ff 192px,#2900ff 197px)"></div>
<div style="height:2px;background:linear-gradient(90deg,#0046ff 0px,#0044ff 6px,#0041ff 12px,#003cff 18px,#0035ff 24px,#002dff 30px,#0025ff 36px,#001cff 42px,#0013ff 48px,#000aff 54px,#0001ff 60px,#0500ff 66px,#0a00ff 72px,#0e00ff 78px,#1300ff 84px,#1600ff 90px,#1900ff 96px,#1c00ff 102px,#1e00ff 108px,#2000ff 114px,#2200ff 120px,#2300ff 126px,#2400ff 132px,#2500ff 138px,#2600ff 144px,#2700ff 150px,#2700ff 156px,#2800ff 162px,#2800ff 168px,#2800ff 174px,#2800ff 180px,#2900ff 186px,#2900ff 192px,#2900ff 197px)"></div>
<div style="height:2px;background:linear-gradient(90deg,#004cff 0px,#004aff 6px,#0047ff 12px,#0041ff 18px,#003aff 24px,#0032ff 30px,#0029ff 36px,#0020ff 42px,#0016ff 48px,#000dff 54px,#0004ff 60px,#0300ff 66px,#0800ff 72px,#0d00ff 78px,#1100ff 84px,#1500ff 90px,#1900ff 96px,#1b00ff 102px,#1e00ff 108px,#2000ff 114px,#2200ff 120px,#2300ff 126px,#2400ff 132px,#2500ff 138px,#2600ff 144px,#2600ff 150px,#2700ff 156px,#2700ff 162px,#2800ff 168px,#2800ff 174px,#2800ff 180px,#2800ff 186px,#2800ff 192px,#2900ff 197px)"></div>
<div style="height:2px;background:linear-gradient(90deg,#0052ff 0px,#0051ff 6px,#004dff 12px,#0047ff 18px,#003fff 24px,#0037ff 30px,#002eff 36px,#0024ff 42px,#001aff 48px,#0010ff 54px,#0006ff 60px,#0200ff 66px,#0700ff 72px,#0c00ff 78px,#1000ff 84px,#1400ff 90px,#1800ff 96px,#1b00ff 102px,#1d00ff 108px,#1f00ff 114px,#2100ff 120px,#2300ff 126px,#2400ff 132px,#2500ff 138px,#2600ff 144px,#2600ff 150px,#2700ff 156px,#2700ff 162px,#2700ff 168px,#2800ff 174px,#2800ff 180px,#2800ff 186px,#2800ff 192px,#2800ff 197px)"></div>
<div style="height:2px;background:linear-gradient(90deg,#0059ff 0px,#0057ff 6px,#0053ff 12px,#004dff 18px,#0045ff 24px,#003cff 30px,#0032ff 36px,#0028ff 42px,#001eff 48px,#0013ff 54px,#0009ff 60px,#0000ff 66px,#0600ff 72px,#0b00ff 78px,#0f00ff 84px,#1300ff 90px,#1700ff 96px,#1a00ff 102px,#1d00ff 108px,#1f00ff 114px,#2100ff 120px,#2200ff 126px,#2300ff 132px,#2400ff 138px,#2500ff 144px,#2600ff 150px,#2600ff 156px,#2700ff 162px,#2700ff 168px,#2800ff 174px,#2800ff 180px,#2800ff 186px,#2800ff 192px,#2800ff 197px)"></div>
<div style="height:2px;background:linear-gradient(90deg,#0061ff 0px,#005fff 6px,#005aff 12px,#0053ff 18px,#004aff 24px,#0041ff 30px,#0037ff 36px,#002cff 42px,#0021ff 48px,#0017ff 54px,#000dff 60px,#0003ff 66px,#0400ff 72px,#0900ff 78px,#0e00ff 84px,#1200ff 90px,#1600ff 96px,#1900ff 102px,#1c00ff 108px,#1e00ff 114px,#2000ff 120px,#2200ff 126px,#2300ff 132px,#2400ff 138px,#2500ff 144px,#2600ff 150px,#2600ff 156px,#2700ff 162px,#2700ff 168px,#2700ff 174px,#2800ff 180px,#2800ff 186px,#2800ff 192px,#2800ff 197px)"></div>
<div style="height:2px;background:linear-gradient(90deg,#006aff 0px,#0068ff 6px,#0062ff 12px,#0059ff 18px,#0050ff 24px,#0046ff 30px,#003cff 36px,#0031ff 42px,#0025ff 48px,#001aff 54px,#0010ff 60px,#0005ff 66px,#0300ff 72px,#0800ff 78px,#0d00ff 84px,#1100ff 90px,#1500ff 96px,#1800ff 102px,#1b00ff 108px,#1e00ff 114px,#2000ff 120px,#2100ff 126px,#2300ff 132px,#2400ff 138px,#2500ff 144px,#2500ff 150px,#2600ff 156px,#2600ff 162px,#2700ff 168px,#2700ff 174px,#2700ff 180px,#2800ff 186px,#2800ff 192px,#2800ff 197px)"></div>
<div style="height:2px;background:linear-gradient(90deg,#0074ff 0px,#0071ff 6px,#006bff 12px,#0061ff 18px,#0056ff 24px,#004cff 30px,#0040ff 36px,#0035ff 42px,#0029ff 48px,#001eff 54px,#0013ff 60px,#0008ff 66px,#0100ff 72px,#0700ff 78px,#0c00ff 84px,#1000ff 90px,#1400ff 96px,#1800ff 102px,#1b00ff 108px,#1d00ff 114px,#1f00ff 120px,#2100ff 126px,#2200ff 132px,#2300ff 138px,#2400ff 144px,#2500ff 150px,#2600ff 156px,#2600ff 162px,#2700ff 168px,#2700ff 174px,#2700ff 180px,#2700ff 186px,#2700ff 192px,#2800ff 197px)"></div>
<div style="height:2px;background:linear-gradient(90deg,#007eff 0px,#007bff 6px,#0074ff 12px,#006aff 18px,#005dff 24px,#0051ff 30px,#0046ff 36px,#003aff 42px,#002eff 48px,#0022ff 54px,#0016ff 60px,#000bff 66px,#0001ff 72px,#0500ff 78px,#0b00ff 84px,#0f00ff 90px,#1300ff 96px,#1700ff 102px,#1a00ff 108px,#1c00ff 114px,#1f00ff 120px,#2000ff 126px,#2200ff 132px,#2300ff 138px,#2400ff 144px,#2500ff 150px,#2500ff 156px,#2600ff 162px,#2600ff 168px,#2700ff 174px,#2700ff 180px,#2700ff 186px,#2700ff 192px,#2700ff 197px)"></div>
<div style="height:2px;background:linear-gradient(90deg,#0088ff 0px,#0085ff 6px,#007dff 12px,#0072ff 18px,#0065ff 24px,#0057ff 30px,#004bff 36px,#003eff 42px,#0032ff 48px,#0026ff 54px,#001aff 60px,#000eff 66px,#0004ff 72px,#0400ff 78px,#0900ff 84px,#0e00ff 90px,#1200ff 96px,#1600ff 102px,#1900ff 108px,#1c00ff 114px,#1e00ff 120px,#2000ff 126px,#2100ff 132px,#2300ff 138px,#2400ff 144px,#2400ff 150px,#2500ff 156px,#2600ff 162px,#2600ff 168px,#2600ff 174px,#2700ff 180px,#2700ff 186px,#2700ff 192px,#2700ff 197px)"></div>
<div style="height:2px;background:linear-gradient(90deg,#0093ff 0px,#0090ff 6px,#0087ff 12px,#007bff 18px,#006dff 24px,#005eff 30px,#0050ff 36px,#0043ff 42px,#0036ff 48px,#0029ff 54px,#001dff 60px,#0011ff 66px,#0006ff 72px,#0200ff 78px,#0800ff 84px,#0d00ff 90px,#1100ff 96px,#1500ff 102px,#1900ff 108px,#1b00ff 114px,#1e00ff 120px,#1f00ff 126px,#2100ff 132px,#2200ff 138px,#2300ff 144px,#2400ff 150px,#2500ff 156px,#2500ff 162px,#2600ff 168px,#2600ff 174px,#2600ff 180px,#2700ff 186px,#2700ff 192px,#2700ff 197px)"></div>
<div style="height:2px;background:linear-gradient(90deg,#009fff 0px,#009bff 6px,#0092ff 12px,#0085ff 18px,#0075ff 24px,#0066ff 30px,#0056ff 36px,#0048ff 42px,#003bff 48px,#002eff 54px,#0021ff 60px,#0014ff 66px,#0009ff 72px,#0100ff 78px,#0700ff 84px,#0c00ff 90px,#1000ff 96px,#1400ff 102px,#1800ff 108px,#1b00ff 114px,#1d00ff 120px,#1f00ff 126px,#2100ff 132px,#2200ff 138px,#2300ff 144px,#2400ff 150px,#2500ff 156px,#2500ff 162px,#2600ff 168px,#2600ff 174px,#2600ff 180px,#2600ff 186px,#2700ff 192px,#2700ff 197px)"></div>
<div style="height:2px;background:linear-gradient(90deg,#00abff 0px,#00a7ff 6px,#009dff 12px,#008fff 18px,#007eff 24px,#006dff 30px,#005dff 36px,#004eff 42px,#0040ff 48px,#0032ff 54px,#0024ff 60px,#0018ff 66px,#000cff 72px,#0001ff 78px,#0500ff 84px,#0b00ff 90px,#0f00ff 96px,#1400ff 102px,#1700ff 108px,#1a00ff 114px,#1c00ff 120px,#1e00ff 126px,#2000ff 132px,#2100ff 138px,#2300ff 144px,#2400ff 150px,#2400ff 156px,#2500ff 162px,#2500ff 168px,#2600ff 174px,#2600ff 180px,#2600ff 186px,#2600ff 192px,#2700ff 197px)"></div>
<div style="height:2px;background:linear-gradient(90deg,#00b9ff 0px,#00b4ff 6px,#00a9ff 12px,#0099ff 18px,#0088ff 24px,#0076ff 30px,#0064ff 36px,#0054ff 42px,#0045ff 48px,#0036ff 54px,#0028ff 60px,#001bff 66px,#000fff 72px,#0004ff 78px,#0400ff 84px,#0a00ff 90px,#0e00ff 96px,#1300ff 102px,#1600ff 108px,#1900ff 114px,#1c00ff 120px,#1e00ff 126px,#2000ff 132px,#2100ff 138px,#2200ff 144px,#2300ff 150px,#2400ff 156px,#2500ff 162px,#2500ff 168px,#2500ff 174px,#2600ff 180px,#2600ff 186px,#2600ff 192px,#2600ff 197px)"></div>
<div style="height:2px;background:linear-gradient(90deg,#00c7ff 0px,#00c2ff 6px,#00b5ff 12px,#00a4ff 18px,#0091ff 24px,#007fff 30px,#006cff 36px,#005aff 42px,#004aff 48px,#003bff 54px,#002cff 60px,#001eff 66px,#0012ff 72px,#0006ff 78px,#0300ff 84px,#0800ff 90px,#0d00ff 96px,#1200ff 102px,#1500ff 108px,#1900ff 114px,#1b00ff 120px,#1d00ff 126px,#1f00ff 132px,#2100ff 138px,#2200ff 144px,#2300ff 150px,#2400ff 156px,#2400ff 162px,#2500ff 168px,#2500ff 174px,#2600ff 180px,#2600ff 186px,#2600ff 192px,#2600ff 197px)"></div>
<div style="height:2px;background:linear-gradient(90deg,#00d0ff 0px,#00cdff 6px,#00c2ff 12px,#00b0ff 18px,#009cff 24px,#0088ff 30px,#0075ff 36px,#0062ff 42px,#0050ff 48px,#003fff 54px,#0030ff 60px,#0022ff 66px,#0015ff 72px,#0009ff 78px,#0100ff 84px,#0700ff 90px,#0c00ff 96px,#1100ff 102px,#1500ff 108px,#1800ff 114px,#1b00ff 120px,#1d00ff 126px,#1f00ff 132px,#2000ff 138px,#2200ff 144px,#2300ff 150px,#2300ff 156px,#2400ff 162px,#2500ff 168px,#2500ff 174px,#2500ff 180px,#2600ff 186px,#2600ff 192px,#2600ff 197px)"></div>
<div style="height:2px;background:linear-gradient(90deg,#00d9ff 0px,#00d6ff 6px,#00cdff 12px,#00bcff 18px,#00a7ff 24px,#0092ff 30px,#007eff 36px,#006aff 42px,#0056ff 48px,#0045ff 54px,#0034ff 60px,#0025ff 66px,#0018ff 72px,#000bff 78px,#0000ff 84px,#0600ff 90px,#0b00ff 96px,#1000ff 102px,#1400ff 108px,#1700ff 114px,#1a00ff 120px,#1c00ff 126px,#1e00ff 132px,#2000ff 138px,#2100ff 144px,#2200ff 150px,#2300ff 156px,#2400ff 162px,#2400ff 168px,#2500ff 174px,#2500ff 180px,#2500ff 186px,#2600ff 192px,#2600ff 197px)"></div>
<div style="height:2px;background:linear-gradient(90deg,#00e3ff 0px,#00dfff 6px,#00d5ff 12px,#00c8ff 18px,#00b2ff 24px,#009dff 30px,#0089ff 36px,#0074ff 42px,#005eff 48px,#004aff 54px,#0039ff 60px,#0029ff 66px,#001bff 72px,#000eff 78px,#0003ff 84px,#0500ff 90px,#0a00ff 96px,#0f00ff 102px,#1300ff 108px,#1600ff 114px,#1900ff 120px,#1c00ff 126px,#1e00ff 132px,#1f00ff 138px,#2100ff 144px,#2200ff 150px,#2300ff 156px,#2300ff 162px,#2400ff 168px,#2400ff 174px,#2500ff 180px,#2500ff 186px,#2500ff 192px,#2600ff 197px)"></div>
<div style="height:2px;background:linear-gradient(90deg,#00edff 0px,#00e9ff 6px,#00deff 12px,#00d1ff 18px,#00bfff 24px,#00a9ff 30px,#0094ff 36px,#007eff 42px,#0067ff 48px,#0050ff 54px,#003dff 60px,#002dff 66px,#001eff 72px,#0011ff 78px,#0005ff 84px,#0300ff 90px,#0900ff 96px,#0e00ff 102px,#1200ff 108px,#1600ff 114px,#1900ff 120px,#1b00ff 126px,#1d00ff 132px,#1f00ff 138px,#2000ff 144px,#2100ff 150px,#2200ff 156px,#2300ff 162px,#2400ff 168px,#2400ff 174px,#2500ff 180px,#2500ff 186px,#2500ff 192px,#2500ff 197px)"></div>
<div style="height:2px;background:linear-gradient(90deg,#00f8ff 0px,#00f3ff 6px,#00e8ff 12px,#00d9ff 18px,#00caff 24px,#00b6ff 30px,#00a1ff 36px,#008aff 42px,#0070ff 48px,#0056ff 54px,#0042ff 60px,#0030ff 66px,#0021ff 72px,#0014ff 78px,#0008ff 84px,#0200ff 90px,#0800ff 96px,#0d00ff 102px,#1100ff 108px,#1500ff 114px,#1800ff 120px,#1b00ff 126px,#1d00ff 132px,#1e00ff 138px,#2000ff 144px,#2100ff 150px,#2200ff 156px,#2300ff 162px,#2300ff 168px,#2400ff 174px,#2400ff 180px,#2500ff 186px,#2500ff 192px,#2500ff 197px)"></div>
<div style="height:2px;background:linear-gradient(90deg,#00fff9 0px,#00ffff 6px,#00f2ff 12px,#00e2ff 18px,#00d3ff 24px,#00c5ff 30px,#00b0ff 36px,#0098ff 42px,#007bff 48px,#005eff 54px,#0047ff 60px,#0034ff 66px,#0024ff 72px,#0017ff 78px,#000aff 84px,#0000ff 90px,#0700ff 96px,#0c00ff 102px,#1000ff 108px,#1400ff 114px,#1700ff 120px,#1a00ff 126px,#1c00ff 132px,#1e00ff 138px,#1f00ff 144px,#2100ff 150px,#2200ff 156px,#2200ff 162px,#2300ff 168px,#2400ff 174px,#2400ff 180px,#2400ff 186px,#2500ff 192px,#2500ff 197px)"></div>
<div style="height:2px;background:linear-gradient(90deg,#00ffec 0px,#00fff2 6px,#00fdff 12px,#00ecff 18px,#00dcff 24px,#00cfff 30px,#00c0ff 36px,#00a6ff 42px,#0088ff 48px,#0067ff 54px,#004dff 60px,#0039ff 66px,#0028ff 72px,#0019ff 78px,#000dff 84px,#0002ff 90px,#0500ff 96px,#0b00ff 102px,#0f00ff 108px,#1300ff 114px,#1600ff 120px,#1900ff 126px,#1b00ff 132px,#1d00ff 138px,#1f00ff 144px,#2000ff 150px,#2100ff 156px,#2200ff 162px,#2300ff 168px,#2300ff 174px,#2400ff 180px,#2400ff 186px,#2400ff 192px,#2500ff 197px)"></div>
<div style="height:2px;background:linear-gradient(90deg,#00ffde 0px,#00ffe5 6px,#00fff5 12px,#00f5ff 18px,#00e5ff 24px,#00d9ff 30px,#00cdff 36px,#00b6ff 42px,#0095ff 48px,#0071ff 54px,#0052ff 60px,#003dff 66px,#002bff 72px,#001dff 78px,#000fff 84px,#0004ff 90px,#0400ff 96px,#0900ff 102px,#0e00ff 108px,#1200ff 114px,#1600ff 120px,#1800ff 126px,#1b00ff 132px,#1d00ff 138px,#1e00ff 144px,#2000ff 150px,#2100ff 156px,#2200ff 162px,#2200ff 168px,#2300ff 174px,#2300ff 180px,#2400ff 186px,#2400ff 192px,#2400ff 197px)"></div>
<div style="height:2px;background:linear-gradient(90deg,#00ffcf 0px,#00ffd7 6px,#00ffe8 12px,#00fffe 18px,#00f0ff 24px,#00e3ff 30px,#00d8ff 36px,#00c8ff 42px,#00a3ff 48px,#007bff 54px,#0058ff 60px,#0041ff 66px,#002fff 72px,#0020ff 78px,#0012ff 84px,#0006ff 90px,#0300ff 96px,#0800ff 102px,#0d00ff 108px,#1100ff 114px,#1500ff 120px,#1800ff 126px,#1a00ff 132px,#1c00ff 138px,#1e00ff 144px,#1f00ff 150px,#2000ff 156px,#2100ff 162px,#2200ff 168px,#2300ff 174px,#2300ff 180px,#2300ff 186px,#2400ff 192px,#2400ff 197px)"></div>
<div style="height:2px;background:linear-gradient(90deg,#00ffc0 0px,#00ffc8 6px,#00ffdb 12px,#00fff1 18px,#00faff 24px,#00efff 30px,#00e3ff 36px,#00d3ff 42px,#00b2ff 48px,#0086ff 54px,#0060ff 60px,#0046ff 66px,#0033ff 72px,#0023ff 78px,#0015ff 84px,#0009ff 90px,#0100ff 96px,#0700ff 102px,#0c00ff 108px,#1000ff 114px,#1400ff 120px,#1700ff 126px,#1900ff 132px,#1c00ff 138px,#1d00ff 144px,#1f00ff 150px,#2000ff 156px,#2100ff 162px,#2200ff 168px,#2200ff 174px,#2300ff 180px,#2300ff 186px,#2300ff 192px,#2400ff 197px)"></div>
<div style="height:2px;background:linear-gradient(90deg,#00ffb0 0px,#00ffb9 6px,#00ffcd 12px,#00ffe5 18px,#00fff8 24px,#00faff 30px,#00efff 36px,#00deff 42px,#00c1ff 48px,#0091ff 54px,#0067ff 60px,#004bff 66px,#0037ff 72px,#0026ff 78px,#0018ff 84px,#000cff 90px,#0001ff 96px,#0600ff 102px,#0b00ff 108px,#0f00ff 114px,#1300ff 120px,#1600ff 126px,#1900ff 132px,#1b00ff 138px,#1d00ff 144px,#1e00ff 150px,#1f00ff 156px,#2000ff 162px,#2100ff 168px,#2200ff 174px,#2200ff 180px,#2300ff 186px,#2300ff 192px,#2300ff 197px)"></div>
<div style="height:2px;background:linear-gradient(90deg,#00ffa0 0px,#00ffa9 6px,#00ffbf 12px,#00ffd8 18px,#00ffec 24px,#00fff7 30px,#00fbff 36px,#00e9ff 42px,#00cdff 48px,#009cff 54px,#006fff 60px,#004fff 66px,#003aff 72px,#002aff 78px,#001bff 84px,#000eff 90px,#0003ff 96px,#0400ff 102px,#0a00ff 108px,#0e00ff 114px,#1200ff 120px,#1500ff 126px,#1800ff 132px,#1a00ff 138px,#1c00ff 144px,#1d00ff 150px,#1f00ff 156px,#2000ff 162px,#2100ff 168px,#2100ff 174px,#2200ff 180px,#2200ff 186px,#2300ff 192px,#2300ff 197px)"></div>
<div style="height:2px;background:linear-gradient(90deg,#00ff8f 0px,#00ff99 6px,#00ffb0 12px,#00ffcb 18px,#00ffdf 24px,#00ffeb 30px,#00fff6 36px,#00f3ff 42px,#00d5ff 48px,#00a7ff 54px,#0077ff 60px,#0054ff 66px,#003fff 72px,#002dff 78px,#001eff 84px,#0011ff 90px,#0006ff 96px,#0300ff 102px,#0800ff 108px,#0d00ff 114px,#1100ff 120px,#1400ff 126px,#1700ff 132px,#1900ff 138px,#1b00ff 144px,#1d00ff 150px,#1e00ff 156px,#1f00ff 162px,#2000ff 168px,#2100ff 174px,#2100ff 180px,#2200ff 186px,#2200ff 192px,#2300ff 197px)"></div>
<div style="height:2px;background:linear-gradient(90deg,#00ff7e 0px,#00ff88 6px,#00ffa2 12px,#00ffbe 18px,#00ffd3 24px,#00ffdf 30px,#00ffea 36px,#00feff 42px,#00deff 48px,#00b1ff 54px,#007eff 60px,#0059ff 66px,#0043ff 72px,#0031ff 78px,#0022ff 84px,#0014ff 90px,#0008ff 96px,#0100ff 102px,#0700ff 108px,#0c00ff 114px,#1000ff 120px,#1300ff 126px,#1600ff 132px,#1800ff 138px,#1a00ff 144px,#1c00ff 150px,#1d00ff 156px,#1e00ff 162px,#1f00ff 168px,#2000ff 174px,#2100ff 180px,#2100ff 186px,#2200ff 192px,#2200ff 197px)"></div>
<div style="height:2px;background:linear-gradient(90deg,#00ff6c 0px,#00ff77 6px,#00ff93 12px,#00ffb1 18px,#00ffc8 24px,#00ffd4 30px,#00ffdf 36px,#00fff7 42px,#00e5ff 48px,#00baff 54px,#0085ff 60px,#005fff 66px,#0047ff 72px,#0035ff 78px,#0025ff 84px,#0017ff 90px,#000bff 96px,#0001ff 102px,#0500ff 108px,#0a00ff 114px,#0e00ff 120px,#1200ff 126px,#1500ff 132px,#1700ff 138px,#1900ff 144px,#1b00ff 150px,#1d00ff 156px,#1e00ff 162px,#1f00ff 168px,#2000ff 174px,#2000ff 180px,#2100ff 186px,#2100ff 192px,#2200ff 197px)"></div>
<div style="height:2px;background:linear-gradient(90deg,#00ff5a 0px,#00ff67 6px,#00ff84 12px,#00ffa5 18px,#00ffbd 24px,#00ffca 30px,#00ffd6 36px,#00ffee 42px,#00ebff 48px,#00c3ff 54px,#008cff 60px,#0065ff 66px,#004bff 72px,#0039ff 78px,#0029ff 84px,#001bff 90px,#000eff 96px,#0004ff 102px,#0400ff 108px,#0900ff 114px,#0d00ff 120px,#1100ff 126px,#1400ff 132px,#1600ff 138px,#1800ff 144px,#1a00ff 150px,#1c00ff 156px,#1d00ff 162px,#1e00ff 168px,#1f00ff 174px,#2000ff 180px,#2000ff 186px,#2100ff 192px,#2100ff 197px)"></div>
<div style="height:2px;background:linear-gradient(90deg,#00ff48 0px,#00ff56 6px,#00ff75 12px,#00ff98 18px,#00ffb3 24px,#00ffc2 30px,#00ffcf 36px,#00ffe8 42px,#00f0ff 48px,#00c9ff 54px,#0093ff 60px,#006bff 66px,#0050ff 72px,#003dff 78px,#002cff 84px,#001eff 90px,#0011ff 96px,#0006ff 102px,#0200ff 108px,#0700ff 114px,#0c00ff 120px,#0f00ff 126px,#1200ff 132px,#1500ff 138px,#1700ff 144px,#1900ff 150px,#1b00ff 156px,#1c00ff 162px,#1d00ff 168px,#1e00ff 174px,#1f00ff 180px,#2000ff 186px,#2000ff 192px,#2100ff 197px)"></div>
<div style="height:2px;background:linear-gradient(90deg,#00ff37 0px,#00ff45 6px,#00ff66 12px,#00ff8c 18px,#00ffa9 24px,#00ffba 30px,#00ffc9 36px,#00ffe3 42px,#00f4ff 48px,#00cdff 54px,#0099ff 60px,#0070ff 66px,#0054ff 72px,#0041ff 78px,#0030ff 84px,#0022ff 90px,#0015ff 96px,#0009ff 102px,#0000ff 108px,#0600ff 114px,#0a00ff 120px,#0e00ff 126px,#1100ff 132px,#1400ff 138px,#1600ff 144px,#1800ff 150px,#1a00ff 156px,#1b00ff 162px,#1c00ff 168px,#1d00ff 174px,#1e00ff 180px,#1f00ff 186px,#2000ff 192px,#2000ff 197px)"></div>
<div style="height:2px;background:linear-gradient(90deg,#00ff25 0px,#00ff34 6px,#00ff57 12px,#00ff81 18px,#00ffa1 24px,#00ffb5 30px,#00ffc6 36px,#00ffe0 42px,#00f7ff 48px,#00d0ff 54px,#009eff 60px,#0076ff 66px,#0059ff 72px,#0045ff 78px,#0034ff 84px,#0025ff 90px,#0018ff 96px,#000dff 102px,#0002ff 108px,#0400ff 114px,#0900ff 120px,#0d00ff 126px,#1000ff 132px,#1300ff 138px,#1500ff 144px,#1700ff 150px,#1900ff 156px,#1a00ff 162px,#1c00ff 168px,#1d00ff 174px,#1d00ff 180px,#1e00ff 186px,#1f00ff 192px,#1f00ff 197px)"></div>
<div style="height:2px;background:linear-gradient(90deg,#00ff14 0px,#00ff24 6px,#00ff49 12px,#00ff76 18px,#00ff9a 24px,#00ffb1 30px,#00ffc4 36px,#00ffdf 42px,#00f8ff 48px,#00d2ff 54px,#00a3ff 60px,#007bff 66px,#005eff 72px,#0049ff 78px,#0038ff 84px,#0029ff 90px,#001bff 96px,#0010ff 102px,#0005ff 108px,#0200ff 114px,#0700ff 120px,#0b00ff 126px,#0f00ff 132px,#1100ff 138px,#1400ff 144px,#1600ff 150px,#1800ff 156px,#1900ff 162px,#1b00ff 168px,#1c00ff 174px,#1d00ff 180px,#1d00ff 186px,#1e00ff 192px,#1f00ff 197px)"></div>
<div style="height:2px;background:linear-gradient(90deg,#00ff03 0px,#00ff14 6px,#00ff3c 12px,#00ff6b 18px,#00ff93 24px,#00ffae 30px,#00ffc4 36px,#00ffe0 42px,#00f8ff 48px,#00d4ff 54px,#00a7ff 60px,#0080ff 66px,#0063ff 72px,#004dff 78px,#003cff 84px,#002dff 90px,#001fff 96px,#0013ff 102px,#0008ff 108px,#0000ff 114px,#0500ff 120px,#0a00ff 126px,#0d00ff 132px,#1000ff 138px,#1300ff 144px,#1500ff 150px,#1700ff 156px,#1800ff 162px,#1a00ff 168px,#1b00ff 174px,#1c00ff 180px,#1d00ff 186px,#1d00ff 192px,#1e00ff 197px)"></div>
<div style="height:2px;background:linear-gradient(90deg,#0aff00 0px,#00ff05 6px,#00ff2f 12px,#00ff62 18px,#00ff8d 24px,#00ffac 30px,#00ffc4 36px,#00ffe2 42px,#00f7ff 48px,#00d5ff 54px,#00abff 60px,#0085ff 66px,#0068ff 72px,#0052ff 78px,#0040ff 84px,#0030ff 90px,#0022ff 96px,#0016ff 102px,#000bff 108px,#0002ff 114px,#0400ff 120px,#0800ff 126px,#0c00ff 132px,#0f00ff 138px,#1200ff 144px,#1400ff 150px,#1600ff 156px,#1700ff 162px,#1900ff 168px,#1a00ff 174px,#1b00ff 180px,#1c00ff 186px,#1d00ff 192px,#1d00ff 197px)"></div>
<div style="height:2px;background:linear-gradient(90deg,#17ff00 0px,#07ff00 6px,#00ff23 12px,#00ff59 18px,#00ff88 24px,#00ffab 30px,#00ffc6 36px,#00ffe4 42px,#00f6ff 48px,#00d5ff 54px,#00afff 60px,#008aff 66px,#006dff 72px,#0056ff 78px,#0044ff 84px,#0034ff 90px,#0026ff 96px,#0019ff 102px,#000eff 108px,#0005ff 114px,#0200ff 120px,#0700ff 126px,#0a00ff 132px,#0e00ff 138px,#1000ff 144px,#1300ff 150px,#1500ff 156px,#1600ff 162px,#1800ff 168px,#1900ff 174px,#1a00ff 180px,#1b00ff 186px,#1c00ff 192px,#1d00ff 197px)"></div>
<div style="height:2px;background:linear-gradient(90deg,#22ff00 0px,#12ff00 6px,#00ff18 12px,#00ff51 18px,#00ff84 24px,#00ffab 30px,#00ffc9 36px,#00ffe7 42px,#00f5ff 48px,#00d6ff 54px,#00b2ff 60px,#008eff 66px,#0071ff 72px,#0059ff 78px,#0047ff 84px,#0037ff 90px,#0029ff 96px,#001cff 102px,#0011ff 108px,#0007ff 114px,#0100ff 120px,#0500ff 126px,#0900ff 132px,#0c00ff 138px,#0f00ff 144px,#1200ff 150px,#1400ff 156px,#1500ff 162px,#1700ff 168px,#1800ff 174px,#1a00ff 180px,#1b00ff 186px,#1b00ff 192px,#1c00ff 197px)"></div>
<div style="height:2px;background:linear-gradient(90deg,#2cff00 0px,#1cff00 6px,#00ff0e 12px,#00ff4a 18px,#00ff80 24px,#00ffab 30px,#00ffcb 36px,#00ffeb 42px,#00f3ff 48px,#00d6ff 54px,#00b4ff 60px,#0092ff 66px,#0076ff 72px,#005dff 78px,#004bff 84px,#003aff 90px,#002cff 96px,#001fff 102px,#0013ff 108px,#000aff 114px,#0001ff 120px,#0400ff 126px,#0800ff 132px,#0b00ff 138px,#0e00ff 144px,#1100ff 150px,#1300ff 156px,#1500ff 162px,#1600ff 168px,#1800ff 174px,#1900ff 180px,#1a00ff 186px,#1b00ff 192px,#1b00ff 197px)"></div>
<div style="height:2px;background:linear-gradient(90deg,#36ff00 0px,#25ff00 6px,#00ff05 12px,#00ff43 18px,#00ff7d 24px,#00ffab 30px,#00ffce 36px,#00ffee 42px,#00f1ff 48px,#00d6ff 54px,#00b7ff 60px,#0095ff 66px,#007aff 72px,#0061ff 78px,#004eff 84px,#003dff 90px,#002eff 96px,#0021ff 102px,#0016ff 108px,#000cff 114px,#0003ff 120px,#0300ff 126px,#0700ff 132px,#0a00ff 138px,#0d00ff 144px,#1000ff 150px,#1200ff 156px,#1400ff 162px,#1500ff 168px,#1700ff 174px,#1800ff 180px,#1900ff 186px,#1a00ff 192px,#1b00ff 197px)"></div>
<div style="height:2px;background:linear-gradient(90deg,#3dff00 0px,#2cff00 6px,#02ff00 12px,#00ff3e 18px,#00ff7b 24px,#00ffab 30px,#00ffd1 36px,#00fff1 42px,#00f0ff 48px,#00d6ff 54px,#00b9ff 60px,#0098ff 66px,#007dff 72px,#0064ff 78px,#0050ff 84px,#0040ff 90px,#0031ff 96px,#0023ff 102px,#0018ff 108px,#000eff 114px,#0005ff 120px,#0200ff 126px,#0600ff 132px,#0900ff 138px,#0c00ff 144px,#0f00ff 150px,#1100ff 156px,#1300ff 162px,#1500ff 168px,#1600ff 174px,#1700ff 180px,#1900ff 186px,#1a00ff 192px,#1a00ff 197px)"></div>
<div style="height:2px;background:linear-gradient(90deg,#44ff00 0px,#32ff00 6px,#07ff00 12px,#00ff3a 18px,#00ff79 24px,#00ffac 30px,#00ffd3 36px,#00fff4 42px,#00eeff 48px,#00d5ff 54px,#00baff 60px,#009bff 66px,#0080ff 72px,#0067ff 78px,#0052ff 84px,#0042ff 90px,#0033ff 96px,#0025ff 102px,#001aff 108px,#0010ff 114px,#0007ff 120px,#0100ff 126px,#0500ff 132px,#0800ff 138px,#0b00ff 144px,#0e00ff 150px,#1000ff 156px,#1200ff 162px,#1400ff 168px,#1600ff 174px,#1700ff 180px,#1800ff 186px,#1900ff 192px,#1a00ff 197px)"></div>
<div style="height:2px;background:linear-gradient(90deg,#48ff00 0px,#36ff00 6px,#0aff00 12px,#00ff37 18px,#00ff78 24px,#00ffad 30px,#00ffd6 36px,#00fff6 42px,#00edff 48px,#00d5ff 54px,#00bbff 60px,#009dff 66px,#0082ff 72px,#0069ff 78px,#0054ff 84px,#0043ff 90px,#0034ff 96px,#0027ff 102px,#001bff 108px,#0011ff 114px,#0008ff 120px,#0000ff 126px,#0400ff 132px,#0800ff 138px,#0b00ff 144px,#0d00ff 150px,#1000ff 156px,#1200ff 162px,#1400ff 168px,#1500ff 174px,#1600ff 180px,#1800ff 186px,#1900ff 192px,#1900ff 197px)"></div>
<div style="height:2px;background:linear-gradient(90deg,#4bff00 0px,#39ff00 6px,#0dff00 12px,#00ff35 18px,#00ff77 24px,#00ffae 30px,#00ffd8 36px,#00fff9 42px,#00ebff 48px,#00d5ff 54px,#00bcff 60px,#009eff 66px,#0083ff 72px,#006bff 78px,#0055ff 84px,#0044ff 90px,#0035ff 96px,#0028ff 102px,#001cff 108px,#0012ff 114px,#0009ff 120px,#0001ff 126px,#0400ff 132px,#0700ff 138px,#0a00ff 144px,#0d00ff 150px,#0f00ff 156px,#1100ff 162px,#1300ff 168px,#1500ff 174px,#1600ff 180px,#1700ff 186px,#1800ff 192px,#1900ff 197px)"></div>
<div style="height:1px;background:linear-gradient(90deg,#4cff00 0px,#3aff00 6px,#0dff00 12px,#00ff35 18px,#00ff78 24px,#00ffaf 30px,#00ffda 36px,#00fffb 42px,#00eaff 48px,#00d4ff 54px,#00bcff 60px,#009eff 66px,#0084ff 72px,#006bff 78px,#0056ff 84px,#0045ff 90px,#0036ff 96px,#0028ff 102px,#001dff 108px,#0012ff 114px,#0009ff 120px,#0002ff 126px,#0300ff 132px,#0700ff 138px,#0a00ff 144px,#0d00ff 150px,#0f00ff 156px,#1100ff 162px,#1300ff 168px,#1400ff 174px,#1600ff 180px,#1700ff 186px,#1800ff 192px,#1900ff 197px)"></div>
</div>
<div class="hm" style="left:331px;top:36px;width:197px;height:197px">
<div style="height:2px;background:linear-gradient(90deg,#a30000 0px,#a30000 6px,#a20000 12px,#a10000 18px,#a00000 24px,#9e0000 30px,#9d0000 36px,#9b0000 42px,#980000 48px,#940000 54px,#8f0000 60px,#8b0000 66px,#860000 72px,#820000 78px,#7f0000 84px,#7d0000 90px,#7c0000 96px,#7b0000 102px,#7b0000 108px,#7a0000 114px,#7a0000 120px,#7a0000 126px,#7a0000 132px,#790000 138px,#790000 144px,#790000 150px,#790000 156px,#790000 162px,#790000 168px,#790000 174px,#790000 180px,#790000 186px,#790000 192px,#790000 197px)"></div>
<div style="height:2px;background:linear-gradient(90deg,#a30000 0px,#a30000 6px,#a20000 12px,#a10000 18px,#a00000 24px,#9e0000 30px,#9d0000 36px,#9b0000 42px,#980000 48px,#940000 54px,#8f0000 60px,#8b0000 66px,#860000 72px,#820000 78px,#7f0000 84px,#7d0000 90px,#7c0000 96px,#7b0000 102px,#7b0000 108px,#7a0000 114px,#7a0000 120px,#7a0000 126px,#7a0000 132px,#790000 138px,#790000 144px,#790000 150px,#790000 156px,#790000 162px,#790000 168px,#790000 174px,#790000 180px,#790000 186px,#790000 192px,#790000 197px)"></div>
<div style="height:2px;background:linear-gradient(90deg,#a30000 0px,#a30000 6px,#a20000 12px,#a10000 18px,#a00000 24px,#9e0000 30px,#9d0000 36px,#9b0000 42px,#980000 48px,#940000 54px,#8f0000 60px,#8b0000 66px,#860000 72px,#820000 78px,#7f0000 84px,#7d0000 90px,#7c0000 96px,#7b0000 102px,#7b0000 108px,#7a0000 114px,#7a0000 120px,#7a0000 126px,#7a0000 132px,#790000 138px,#790000 144px,#790000 150px,#790000 156px,#790000 162px,#790000 168px,#790000 174px,#790000 180px,#790000 186px,#790000 192px,#790000 197px)"></div>
<div style="height:2px;background:linear-gradient(90deg,#a30000 0px,#a30000 6px,#a20000 12px,#a10000 18px,#a00000 24px,#9e0000 30px,#9d0000 36px,#9b0000 42px,#980000 48px,#940000 54px,#8f0000 60px,#8b0000 66px,#860000 72px,#820000 78px,#7f0000 84px,#7d0000 90px,#7c0000 96px,#7b0000 102px,#7b0000 108px,#7a0000 114px,#7a0000 120px,#7a0000 126px,#7a0000 132px,#790000 138px,#790000 144px,#790000 150px,#790000 156px,#790000 162px,#790000 168px,#790000 174px,#790000 180px,#790000 186px,#790000 192px,#790000 197px)"></div>
<div style="height:2px;background:linear-gradient(90deg,#a30000 0px,#a30000 6px,#a20000 12px,#a10000 18px,#a00000 24px,#9e0000 30px,#9d0000 36px,#9b0000 42px,#980000 48px,#940000 54px,#8f0000 60px,#8b0000 66px,#860000 72px,#820000 78px,#7f0000 84px,#7d0000 90px,#7c0000 96px,#7b0000 102px,#7b0000 108px,#7a0000 114px,#7a0000 120px,#7a0000 126px,#7a0000 132px,#790000 138px,#790000 144px,#790000 150px,#790000 156px,#790000 162px,#790000 168px,#790000 174px,#790000 180px,#790000 186px,#790000 192px,#790000 197px)"></div>
<div style="height:2px;background:linear-gradient(90deg,#a30000 0px,#a30000 6px,#a20000 12px,#a10000 18px,#a00000 24px,#9e0000 30px,#9d0000 36px,#9b0000 42px,#980000 48px,#940000 54px,#8f0000 60px,#8b0000 66px,#860000 72px,#820000 78px,#7f0000 84px,#7d0000 90px,#7c0000 96px,#7b0000 102px,#7b0000 108px,#7a0000 114px,#7a0000 120px,#7a0000 126px,#7a0000 132px,#790000 138px,#790000 144px,#790000 150px,#790000 156px,#790000 162px,#790000 168px,#790000 174px,#790000 180px,#790000 186px,#790000 192px,#790000 197px)"></div>
<div style="height:2px;background:linear-gradient(90deg,#a30000 0px,#a30000 6px,#a20000 12px,#a10000 18px,#a00000 24px,#9e0000 30px,#9d0000 36px,#9b0000 42px,#980000 48px,#940000 54px,#8f0000 60px,#8b0000 66px,#860000 72px,#820000 78px,#7f0000 84px,#7d0000 90px,#7c0000 96px,#7b0000 102px,#7b0000 108px,#7a0000 114px,#7a0000 120px,#7a0000 126px,#7a0000 132px,#790000 138px,#790000 144px,#790000 150px,#790000 156px,#790000 162px,#790000 168px,#790000 174px,#790000 180px,#790000 186px,#790000 192px,#790000 197px)"></div>
<div style="height:2px;background:linear-gradient(90deg,#a30000 0px,#a30000 6px,#a20000 12px,#a10000 18px,#a00000 24px,#9e0000 30px,#9d0000 36px,#9b0000 42px,#980000 48px,#940000 54px,#8f0000 60px,#8b0000 66px,#860000 72px,#820000 78px,#7f0000 84px,#7d0000 90px,#7c0000 96px,#7b0000 102px,#7b0000 108px,#7a0000 114px,#7a0000 120px,#7a0000 126px,#7a0000 132px,#790000 138px,#790000 144px,#790000 150px,#790000 156px,#790000 162px,#790000 168px,#790000 174px,#790000 180px,#790000 186px,#790000 192px,#790000 197px)"></div>
<div style="height:2px;background:linear-gradient(90deg,#a30000 0px,#a30000 6px,#a20000 12px,#a10000 18px,#a00000 24px,#9e0000 30px,#9d0000 36px,#9b0000 42px,#980000 48px,#940000 54px,#8f0000 60px,#8b0000 66px,#860000 72px,#820000 78px,#7f0000 84px,#7d0000 90px,#7c0000 96px,#7b0000 102px,#7b0000 108px,#7a0000 114px,#7a0000 120px,#7a0000 126px,#7a0000 132px,#790000 138px,#790000 144px,#790000 150px,#790000 156px,#790000 162px,#790000 168px,#790000 174px,#790000 180px,#790000 186px,#790000 192px,#790000 197px)"></div>
<div style="height:2px;background:linear-gradient(90deg,#a30000 0px,#a30000 6px,#a20000 12px,#a10000 18px,#a00000 24px,#9e0000 30px,#9d0000 36px,#9b0000 42px,#980000 48px,#940000 54px,#8f0000 60px,#8b0000 66px,#860000 72px,#820000 78px,#7f0000 84px,#7d0000 90px,#7c0000 96px,#7b0000 102px,#7b0000 108px,#7a0000 114px,#7a0000 120px,#7a0000 126px,#7a0000 132px,#790000 138px,#790000 144px,#790000 150px,#790000 156px,#790000 162px,#790000 168px,#790000 174px,#790000 180px,#790000 186px,#790000 192px,#790000 197px)"></div>
<div style="height:2px;background:linear-gradient(90deg,#a30000 0px,#a30000 6px,#a20000 12px,#a10000 18px,#a00000 24px,#9e0000 30px,#9d0000 36px,#9b0000 42px,#980000 48px,#940000 54px,#8f0000 60px,#8b0000 66px,#860000 72px,#820000 78px,#7f0000 84px,#7d0000 90px,#7c0000 96px,#7b0000 102px,#7b0000 108px,#7a0000 114px,#7a0000 120px,#7a0000 126px,#7a0000 132px,#790000 138px,#790000 144px,#790000 150px,#790000 156px,#790000 162px,#790000 168px,#790000 174px,#790000 180px,#790000 186px,#790000 192px,#790000 197px)"></div>
<div style="height:2px;background:linear-gradient(90deg,#a30000 0px,#a30000 6px,#a20000 12px,#a10000 18px,#a00000 24px,#9e0000 30px,#9d0000 36px,#9b0000 42px,#980000 48px,#940000 54px,#8f0000 60px,#8b0000 66px,#860000 72px,#820000 78px,#7f0000 84px,#7d0000 90px,#7c0000 96px,#7b0000 102px,#7b0000 108px,#7a0000 114px,#7a0000 120px,#7a0000 126px,#7a0000 132px,#790000 138px,#790000 144px,#790000 150px,#790000 156px,#790000 162px,#790000 168px,#790000 174px,#790000 180px,#790000 186px,#790000 192px,#790000 197px)"></div>
<div style="height:2px;background:linear-gradient(90deg,#a30000 0px,#a30000 6px,#a20000 12px,#a10000 18px,#a00000 24px,#9e0000 30px,#9d0000 36px,#9b0000 42px,#980000 48px,#940000 54px,#8f0000 60px,#8b0000 66px,#860000 72px,#820000 78px,#7f0000 84px,#7d0000 90px,#7c0000 96px,#7b0000 102px,#7b0000 108px,#7a0000 114px,#7a0000 120px,#7a0000 126px,#7a0000 132px,#790000 138px,#790000 144px,#790000 150px,#790000 156px,#790000 162px,#790000 168px,#790000 174px,#790000 180px,#790000 186px,#790000 192px,#790000 197px)"></div>
<div style="height:2px;background:linear-gradient(90deg,#a30000 0px,#a30000 6px,#a20000 12px,#a10000 18px,#a00000 24px,#9e0000 30px,#9d0000 36px,#9b0000 42px,#980000 48px,#940000 54px,#8f0000 60px,#8b0000 66px,#860000 72px,#820000 78px,#7f0000 84px,#7d0000 90px,#7c0000 96px,#7b0000 102px,#7b0000 108px,#7a0000 114px,#7a0000 120px,#7a0000 126px,#7a0000 132px,#790000 138px,#790000 144px,#790000 150px,#790000 156px,#790000 162px,#790000 168px,#790000 174px,#790000 180px,#790000 186px,#790000 192px,#790000 197px)"></div>
<div style="height:2px;background:linear-gradient(90deg,#a30000 0px,#a30000 6px,#a20000 12px,#a10000 18px,#a00000 24px,#9e0000 30px,#9d0000 36px,#9b0000 42px,#980000 48px,#940000 54px,#8f0000 60px,#8b0000 66px,#860000 72px,#820000 78px,#7f0000 84px,#7d0000 90px,#7c0000 96px,#7b0000 102px,#7b0000 108px,#7a0000 114px,#7a0000 120px,#7a0000 126px,#7a0000 132px,#790000 138px,#790000 144px,#790000 150px,#790000 156px,#790000 162px,#790000 168px,#790000 174px,#790000 180px,#790000 186px,#790000 192px,#790000 197px)"></div>
<div style="height:2px;background:linear-gradient(90deg,#a30000 0px,#a30000 6px,#a20000 12px,#a10000 18px,#a00000 24px,#9e0000 30px,#9d0000 36px,#9b0000 42px,#980000 48px,#940000 54px,#8f0000 60px,#8b0000 66px,#860000 72px,#820000 78px,#7f0000 84px,#7d0000 90px,#7c0000 96px,#7b0000 102px,#7b0000 108px,#7a0000 114px,#7a0000 120px,#7a0000 126px,#7a0000 132px,#790000 138px,#790000 144px,#790000 150px,#790000 156px,#790000 162px,#790000 168px,#790000 174px,#790000 180px,#790000 186px,#790000 192px,#790000 197px)"></div>
<div style="height:2px;background:linear-gradient(90deg,#a30000 0px,#a30000 6px,#a20000 12px,#a10000 18px,#a00000 24px,#9e0000 30px,#9d0000 36px,#9b0000 42px,#980000 48px,#940000 54px,#8f0000 60px,#8b0000 66px,#860000 72px,#820000 78px,#7f0000 84px,#7d0000 90px,#7c0000 96px,#7b0000 102px,#7b0000 108px,#7a0000 114px,#7a0000 120px,#7a0000 126px,#7a0000 132px,#790000 138px,#790000 144px,#790000 150px,#790000 156px,#790000 162px,#790000 168px,#790000 174px,#790000 180px,#790000 186px,#790000 192px,#790000 197px)"></div>
<div style="height:2px;background:linear-gradient(90deg,#a30000 0px,#a30000 6px,#a20000 12px,#a10000 18px,#a00000 24px,#9e0000 30px,#9d0000 36px,#9b0000 42px,#980000 48px,#940000 54px,#8f0000 60px,#8b0000 66px,#860000 72px,#820000 78px,#7f0000 84px,#7d0000 90px,#7c0000 96px,#7b0000 102px,#7b0000 108px,#7a0000 114px,#7a0000 120px,#7a0000 126px,#7a0000 132px,#790000 138px,#790000 144px,#790000 150px,#790000 156px,#790000 162px,#790000 168px,#790000 174px,#790000 180px,#790000 186px,#790000 192px,#790000 197px)"></div>
<div style="height:2px;background:linear-gradient(90deg,#a30000 0px,#a30000 6px,#a20000 12px,#a10000 18px,#a00000 24px,#9e0000 30px,#9d0000 36px,#9b0000 42px,#980000 48px,#940000 54px,#8f0000 60px,#8b0000 66px,#860000 72px,#830000 78px,#7f0000 84px,#7d0000 90px,#7c0000 96px,#7c0000 102px,#7b0000 108px,#7a0000 114px,#7a0000 120px,#7a0000 126px,#7a0000 132px,#7a0000 138px,#790000 144px,#790000 150px,#790000 156px,#790000 162px,#790000 168px,#790000 174px,#790000 180px,#790000 186px,#790000 192px,#790000 197px)"></div>
<div style="height:2px;background:linear-gradient(90deg,#a30000 0px,#a30000 6px,#a20000 12px,#a10000 18px,#a00000 24px,#9e0000 30px,#9d0000 36px,#9b0000 42px,#980000 48px,#940000 54px,#8f0000 60px,#8b0000 66px,#870000 72px,#830000 78px,#7f0000 84px,#7d0000 90px,#7c0000 96px,#7c0000 102px,#7b0000 108px,#7b0000 114px,#7a0000 120px,#7a0000 126px,#7a0000 132px,#7a0000 138px,#7a0000 144px,#790000 150px,#790000 156px,#790000 162px,#790000 168px,#790000 174px,#790000 180px,#790000 186px,#790000 192px,#790000 197px)"></div>
<div style="height:2px;background:linear-gradient(90deg,#a30000 0px,#a30000 6px,#a20000 12px,#a10000 18px,#a00000 24px,#9e0000 30px,#9d0000 36px,#9b0000 42px,#980000 48px,#940000 54px,#8f0000 60px,#8b0000 66px,#870000 72px,#830000 78px,#800000 84px,#7d0000 90px,#7d0000 96px,#7c0000 102px,#7b0000 108px,#7b0000 114px,#7a0000 120px,#7a0000 126px,#7a0000 132px,#7a0000 138px,#7a0000 144px,#7a0000 150px,#7a0000 156px,#7a0000 162px,#790000 168px,#790000 174px,#790000 180px,#790000 186px,#790000 192px,#790000 197px)"></div>
<div style="height:2px;background:linear-gradient(90deg,#a30000 0px,#a30000 6px,#a20000 12px,#a10000 18px,#a00000 24px,#9e0000 30px,#9d0000 36px,#9b0000 42px,#980000 48px,#940000 54px,#900000 60px,#8b0000 66px,#870000 72px,#830000 78px,#800000 84px,#7e0000 90px,#7d0000 96px,#7c0000 102px,#7b0000 108px,#7b0000 114px,#7b0000 120px,#7a0000 126px,#7a0000 132px,#7a0000 138px,#7a0000 144px,#7a0000 150px,#7a0000 156px,#7a0000 162px,#7a0000 168px,#7a0000 174px,#7a0000 180px,#7a0000 186px,#7a0000 192px,#7a0000 197px)"></div>
<div style="height:2px;background:linear-gradient(90deg,#a30000 0px,#a30000 6px,#a20000 12px,#a10000 18px,#a00000 24px,#9e0000 30px,#9d0000 36px,#9b0000 42px,#980000 48px,#940000 54px,#900000 60px,#8b0000 66px,#870000 72px,#830000 78px,#800000 84px,#7e0000 90px,#7d0000 96px,#7c0000 102px,#7c0000 108px,#7b0000 114px,#7b0000 120px,#7a0000 126px,#7a0000 132px,#7a0000 138px,#7a0000 144px,#7a0000 150px,#7a0000 156px,#7a0000 162px,#7a0000 168px,#7a0000 174px,#7a0000 180px,#7a0000 186px,#7a0000 192px,#7a0000 197px)"></div>
<div style="height:2px;background:linear-gradient(90deg,#a30000 0px,#a30000 6px,#a20000 12px,#a10000 18px,#a00000 24px,#9e0000 30px,#9d0000 36px,#9b0000 42px,#980000 48px,#940000 54px,#900000 60px,#8b0000 66px,#870000 72px,#830000 78px,#800000 84px,#7e0000 90px,#7d0000 96px,#7c0000 102px,#7c0000 108px,#7b0000 114px,#7b0000 120px,#7b0000 126px,#7b0000 132px,#7a0000 138px,#7a0000 144px,#7a0000 150px,#7a0000 156px,#7a0000 162px,#7a0000 168px,#7a0000 174px,#7a0000 180px,#7a0000 186px,#7a0000 192px,#7a0000 197px)"></div>
<div style="height:2px;background:linear-gradient(90deg,#a30000 0px,#a30000 6px,#a20000 12px,#a10000 18px,#a00000 24px,#9e0000 30px,#9d0000 36px,#9b0000 42px,#980000 48px,#940000 54px,#900000 60px,#8b0000 66px,#870000 72px,#830000 78px,#800000 84px,#7e0000 90px,#7d0000 96px,#7d0000 102px,#7c0000 108px,#7c0000 114px,#7b0000 120px,#7b0000 126px,#7b0000 132px,#7b0000 138px,#7b0000 144px,#7a0000 150px,#7a0000 156px,#7a0000 162px,#7a0000 168px,#7a0000 174px,#7a0000 180px,#7a0000 186px,#7a0000 192px,#7a0000 197px)"></div>
<div style="height:2px;background:linear-gradient(90deg,#a30000 0px,#a30000 6px,#a20000 12px,#a10000 18px,#a00000 24px,#9e0000 30px,#9d0000 36px,#9b0000 42px,#980000 48px,#940000 54px,#900000 60px,#8c0000 66px,#870000 72px,#840000 78px,#810000 84px,#7f0000 90px,#7e0000 96px,#7d0000 102px,#7c0000 108px,#7c0000 114px,#7c0000 120px,#7b0000 126px,#7b0000 132px,#7b0000 138px,#7b0000 144px,#7b0000 150px,#7b0000 156px,#7b0000 162px,#7b0000 168px,#7b0000 174px,#7b0000 180px,#7b0000 186px,#7b0000 192px,#7b0000 197px)"></div>
<div style="height:2px;background:linear-gradient(90deg,#a30000 0px,#a30000 6px,#a20000 12px,#a10000 18px,#a00000 24px,#9e0000 30px,#9d0000 36px,#9b0000 42px,#980000 48px,#940000 54px,#900000 60px,#8c0000 66px,#880000 72px,#840000 78px,#810000 84px,#7f0000 90px,#7e0000 96px,#7d0000 102px,#7d0000 108px,#7c0000 114px,#7c0000 120px,#7c0000 126px,#7b0000 132px,#7b0000 138px,#7b0000 144px,#7b0000 150px,#7b0000 156px,#7b0000 162px,#7b0000 168px,#7b0000 174px,#7b0000 180px,#7b0000 186px,#7b0000 192px,#7b0000 197px)"></div>
<div style="height:2px;background:linear-gradient(90deg,#a30000 0px,#a30000 6px,#a20000 12px,#a10000 18px,#a00000 24px,#9e0000 30px,#9d0000 36px,#9b0000 42px,#980000 48px,#940000 54px,#900000 60px,#8c0000 66px,#880000 72px,#840000 78px,#810000 84px,#7f0000 90px,#7e0000 96px,#7e0000 102px,#7d0000 108px,#7d0000 114px,#7c0000 120px,#7c0000 126px,#7c0000 132px,#7c0000 138px,#7b0000 144px,#7b0000 150px,#7b0000 156px,#7b0000 162px,#7b0000 168px,#7b0000 174px,#7b0000 180px,#7b0000 186px,#7b0000 192px,#7b0000 197px)"></div>
<div style="height:2px;background:linear-gradient(90deg,#a30000 0px,#a30000 6px,#a20000 12px,#a10000 18px,#a00000 24px,#9e0000 30px,#9d0000 36px,#9b0000 42px,#980000 48px,#940000 54px,#900000 60px,#8c0000 66px,#880000 72px,#840000 78px,#820000 84px,#800000 90px,#7f0000 96px,#7e0000 102px,#7d0000 108px,#7d0000 114px,#7d0000 120px,#7c0000 126px,#7c0000 132px,#7c0000 138px,#7c0000 144px,#7c0000 150px,#7c0000 156px,#7c0000 162px,#7c0000 168px,#7c0000 174px,#7c0000 180px,#7c0000 186px,#7c0000 192px,#7c0000 197px)"></div>
<div style="height:2px;background:linear-gradient(90deg,#a30000 0px,#a30000 6px,#a20000 12px,#a10000 18px,#a00000 24px,#9e0000 30px,#9c0000 36px,#9b0000 42px,#980000 48px,#940000 54px,#900000 60px,#8c0000 66px,#880000 72px,#850000 78px,#820000 84px,#800000 90px,#7f0000 96px,#7e0000 102px,#7e0000 108px,#7d0000 114px,#7d0000 120px,#7d0000 126px,#7c0000 132px,#7c0000 138px,#7c0000 144px,#7c0000 150px,#7c0000 156px,#7c0000 162px,#7c0000 168px,#7c0000 174px,#7c0000 180px,#7c0000 186px,#7c0000 192px,#7c0000 197px)"></div>
<div style="height:2px;background:linear-gradient(90deg,#a30000 0px,#a30000 6px,#a20000 12px,#a10000 18px,#a00000 24px,#9e0000 30px,#9c0000 36px,#9a0000 42px,#980000 48px,#940000 54px,#900000 60px,#8c0000 66px,#890000 72px,#850000 78px,#820000 84px,#800000 90px,#7f0000 96px,#7f0000 102px,#7e0000 108px,#7e0000 114px,#7d0000 120px,#7d0000 126px,#7d0000 132px,#7d0000 138px,#7d0000 144px,#7d0000 150px,#7c0000 156px,#7c0000 162px,#7c0000 168px,#7c0000 174px,#7c0000 180px,#7c0000 186px,#7c0000 192px,#7c0000 197px)"></div>
<div style="height:2px;background:linear-gradient(90deg,#a30000 0px,#a20000 6px,#a20000 12px,#a10000 18px,#a00000 24px,#9e0000 30px,#9c0000 36px,#9a0000 42px,#980000 48px,#940000 54px,#910000 60px,#8d0000 66px,#890000 72px,#850000 78px,#830000 84px,#810000 90px,#800000 96px,#7f0000 102px,#7f0000 108px,#7e0000 114px,#7e0000 120px,#7d0000 126px,#7d0000 132px,#7d0000 138px,#7d0000 144px,#7d0000 150px,#7d0000 156px,#7d0000 162px,#7d0000 168px,#7d0000 174px,#7d0000 180px,#7d0000 186px,#7d0000 192px,#7d0000 197px)"></div>
<div style="height:2px;background:linear-gradient(90deg,#a30000 0px,#a20000 6px,#a20000 12px,#a10000 18px,#a00000 24px,#9e0000 30px,#9c0000 36px,#9a0000 42px,#980000 48px,#940000 54px,#910000 60px,#8d0000 66px,#890000 72px,#860000 78px,#830000 84px,#810000 90px,#800000 96px,#800000 102px,#7f0000 108px,#7f0000 114px,#7e0000 120px,#7e0000 126px,#7e0000 132px,#7e0000 138px,#7d0000 144px,#7d0000 150px,#7d0000 156px,#7d0000 162px,#7d0000 168px,#7d0000 174px,#7d0000 180px,#7d0000 186px,#7d0000 192px,#7d0000 197px)"></div>
<div style="height:2px;background:linear-gradient(90deg,#a20000 0px,#a20000 6px,#a20000 12px,#a10000 18px,#9f0000 24px,#9e0000 30px,#9c0000 36px,#9a0000 42px,#980000 48px,#940000 54px,#910000 60px,#8d0000 66px,#890000 72px,#860000 78px,#840000 84px,#820000 90px,#810000 96px,#800000 102px,#7f0000 108px,#7f0000 114px,#7f0000 120px,#7e0000 126px,#7e0000 132px,#7e0000 138px,#7e0000 144px,#7e0000 150px,#7e0000 156px,#7e0000 162px,#7e0000 168px,#7e0000 174px,#7e0000 180px,#7e0000 186px,#7e0000 192px,#7e0000 197px)"></div>
<div style="height:2px;background:linear-gradient(90deg,#a20000 0px,#a20000 6px,#a10000 12px,#a00000 18px,#9f0000 24px,#9e0000 30px,#9c0000 36px,#9a0000 42px,#980000 48px,#940000 54px,#910000 60px,#8d0000 66px,#8a0000 72px,#860000 78px,#840000 84px,#820000 90px,#810000 96px,#800000 102px,#800000 108px,#7f0000 114px,#7f0000 120px,#7f0000 126px,#7f0000 132px,#7e0000 138px,#7e0000 144px,#7e0000 150px,#7e0000 156px,#7e0000 162px,#7e0000 168px,#7e0000 174px,#7e0000 180px,#7e0000 186px,#7e0000 192px,#7e0000 197px)"></div>
<div style="height:2px;background:linear-gradient(90deg,#a20000 0px,#a20000 6px,#a10000 12px,#a00000 18px,#9f0000 24px,#9e0000 30px,#9c0000 36px,#9a0000 42px,#970000 48px,#940000 54px,#910000 60px,#8d0000 66px,#8a0000 72px,#870000 78px,#840000 84px,#830000 90px,#820000 96px,#810000 102px,#800000 108px,#800000 114px,#800000 120px,#7f0000 126px,#7f0000 132px,#7f0000 138px,#7f0000 144px,#7f0000 150px,#7f0000 156px,#7f0000 162px,#7f0000 168px,#7f0000 174px,#7f0000 180px,#7f0000 186px,#7f0000 192px,#7f0000 197px)"></div>
<div style="height:2px;background:linear-gradient(90deg,#a10000 0px,#a10000 6px,#a10000 12px,#a00000 18px,#9f0000 24px,#9d0000 30px,#9c0000 36px,#9a0000 42px,#970000 48px,#940000 54px,#910000 60px,#8d0000 66px,#8a0000 72px,#870000 78px,#850000 84px,#830000 90px,#820000 96px,#810000 102px,#810000 108px,#800000 114px,#800000 120px,#800000 126px,#800000 132px,#7f0000 138px,#7f0000 144px,#7f0000 150px,#7f0000 156px,#7f0000 162px,#7f0000 168px,#7f0000 174px,#7f0000 180px,#7f0000 186px,#7f0000 192px,#7f0000 197px)"></div>
<div style="height:2px;background:linear-gradient(90deg,#a10000 0px,#a10000 6px,#a00000 12px,#9f0000 18px,#9e0000 24px,#9d0000 30px,#9b0000 36px,#990000 42px,#970000 48px,#940000 54px,#910000 60px,#8e0000 66px,#8a0000 72px,#870000 78px,#850000 84px,#830000 90px,#830000 96px,#820000 102px,#810000 108px,#810000 114px,#810000 120px,#800000 126px,#800000 132px,#800000 138px,#800000 144px,#800000 150px,#800000 156px,#800000 162px,#800000 168px,#800000 174px,#800000 180px,#800000 186px,#800000 192px,#800000 197px)"></div>
<div style="height:2px;background:linear-gradient(90deg,#a00000 0px,#a00000 6px,#9f0000 12px,#9f0000 18px,#9d0000 24px,#9c0000 30px,#9b0000 36px,#990000 42px,#970000 48px,#940000 54px,#910000 60px,#8e0000 66px,#8a0000 72px,#880000 78px,#850000 84px,#840000 90px,#830000 96px,#820000 102px,#820000 108px,#810000 114px,#810000 120px,#810000 126px,#810000 132px,#800000 138px,#800000 144px,#800000 150px,#800000 156px,#800000 162px,#800000 168px,#800000 174px,#800000 180px,#800000 186px,#800000 192px,#800000 197px)"></div>
<div style="height:2px;background:linear-gradient(90deg,#9f0000 0px,#9f0000 6px,#9f0000 12px,#9e0000 18px,#9d0000 24px,#9c0000 30px,#9a0000 36px,#990000 42px,#960000 48px,#940000 54px,#910000 60px,#8e0000 66px,#8b0000 72px,#880000 78px,#860000 84px,#840000 90px,#830000 96px,#830000 102px,#820000 108px,#820000 114px,#810000 120px,#810000 126px,#810000 132px,#810000 138px,#810000 144px,#810000 150px,#810000 156px,#810000 162px,#810000 168px,#810000 174px,#810000 180px,#810000 186px,#810000 192px,#810000 197px)"></div>
<div style="height:2px;background:linear-gradient(90deg,#9e0000 0px,#9e0000 6px,#9e0000 12px,#9d0000 18px,#9c0000 24px,#9b0000 30px,#9a0000 36px,#980000 42px,#960000 48px,#930000 54px,#910000 60px,#8e0000 66px,#8b0000 72px,#880000 78px,#860000 84px,#850000 90px,#840000 96px,#830000 102px,#830000 108px,#820000 114px,#820000 120px,#820000 126px,#820000 132px,#810000 138px,#810000 144px,#810000 150px,#810000 156px,#810000 162px,#810000 168px,#810000 174px,#810000 180px,#810000 186px,#810000 192px,#810000 197px)"></div>
<div style="height:2px;background:linear-gradient(90deg,#9d0000 0px,#9d0000 6px,#9d0000 12px,#9c0000 18px,#9b0000 24px,#9a0000 30px,#990000 36px,#970000 42px,#950000 48px,#930000 54px,#900000 60px,#8e0000 66px,#8b0000 72px,#890000 78px,#870000 84px,#850000 90px,#840000 96px,#840000 102px,#830000 108px,#830000 114px,#820000 120px,#820000 126px,#820000 132px,#820000 138px,#820000 144px,#820000 150px,#820000 156px,#820000 162px,#820000 168px,#820000 174px,#820000 180px,#820000 186px,#820000 192px,#820000 197px)"></div>
<div style="height:2px;background:linear-gradient(90deg,#9c0000 0px,#9c0000 6px,#9c0000 12px,#9b0000 18px,#9a0000 24px,#990000 30px,#980000 36px,#970000 42px,#950000 48px,#930000 54px,#900000 60px,#8e0000 66px,#8b0000 72px,#890000 78px,#870000 84px,#850000 90px,#850000 96px,#840000 102px,#840000 108px,#830000 114px,#830000 120px,#830000 126px,#830000 132px,#820000 138px,#820000 144px,#820000 150px,#820000 156px,#820000 162px,#820000 168px,#820000 174px,#820000 180px,#820000 186px,#820000 192px,#820000 197px)"></div>
<div style="height:2px;background:linear-gradient(90deg,#9b0000 0px,#9b0000 6px,#9a0000 12px,#9a0000 18px,#990000 24px,#980000 30px,#970000 36px,#960000 42px,#940000 48px,#920000 54px,#900000 60px,#8d0000 66px,#8b0000 72px,#890000 78px,#870000 84px,#860000 90px,#850000 96px,#850000 102px,#840000 108px,#840000 114px,#830000 120px,#830000 126px,#830000 132px,#830000 138px,#830000 144px,#830000 150px,#830000 156px,#830000 162px,#830000 168px,#830000 174px,#830000 180px,#830000 186px,#830000 192px,#830000 197px)"></div>
<div style="height:2px;background:linear-gradient(90deg,#990000 0px,#990000 6px,#990000 12px,#980000 18px,#980000 24px,#970000 30px,#960000 36px,#950000 42px,#940000 48px,#920000 54px,#900000 60px,#8d0000 66px,#8b0000 72px,#890000 78px,#870000 84px,#860000 90px,#860000 96px,#850000 102px,#850000 108px,#840000 114px,#840000 120px,#840000 126px,#830000 132px,#830000 138px,#830000 144px,#830000 150px,#830000 156px,#830000 162px,#830000 168px,#830000 174px,#830000 180px,#830000 186px,#830000 192px,#830000 197px)"></div>
<div style="height:2px;background:linear-gradient(90deg,#980000 0px,#970000 6px,#970000 12px,#970000 18px,#970000 24px,#960000 30px,#950000 36px,#940000 42px,#930000 48px,#910000 54px,#8f0000 60px,#8d0000 66px,#8b0000 72px,#890000 78px,#880000 84px,#870000 90px,#860000 96px,#850000 102px,#850000 108px,#850000 114px,#840000 120px,#840000 126px,#840000 132px,#840000 138px,#840000 144px,#840000 150px,#840000 156px,#840000 162px,#840000 168px,#840000 174px,#840000 180px,#840000 186px,#840000 192px,#840000 197px)"></div>
<div style="height:2px;background:linear-gradient(90deg,#960000 0px,#960000 6px,#960000 12px,#950000 18px,#950000 24px,#950000 30px,#940000 36px,#930000 42px,#920000 48px,#910000 54px,#8f0000 60px,#8d0000 66px,#8b0000 72px,#890000 78px,#880000 84px,#870000 90px,#860000 96px,#860000 102px,#850000 108px,#850000 114px,#850000 120px,#850000 126px,#840000 132px,#840000 138px,#840000 144px,#840000 150px,#840000 156px,#840000 162px,#840000 168px,#840000 174px,#840000 180px,#840000 186px,#840000 192px,#840000 197px)"></div>
<div style="height:2px;background:linear-gradient(90deg,#940000 0px,#940000 6px,#940000 12px,#940000 18px,#930000 24px,#930000 30px,#930000 36px,#920000 42px,#910000 48px,#900000 54px,#8e0000 60px,#8d0000 66px,#8b0000 72px,#8a0000 78px,#880000 84px,#870000 90px,#870000 96px,#860000 102px,#860000 108px,#850000 114px,#850000 120px,#850000 126px,#850000 132px,#850000 138px,#850000 144px,#850000 150px,#850000 156px,#850000 162px,#850000 168px,#850000 174px,#850000 180px,#850000 186px,#850000 192px,#850000 197px)"></div>
<div style="height:2px;background:linear-gradient(90deg,#920000 0px,#920000 6px,#920000 12px,#920000 18px,#920000 24px,#920000 30px,#910000 36px,#910000 42px,#900000 48px,#8f0000 54px,#8e0000 60px,#8d0000 66px,#8b0000 72px,#8a0000 78px,#880000 84px,#880000 90px,#870000 96px,#870000 102px,#860000 108px,#860000 114px,#860000 120px,#850000 126px,#850000 132px,#850000 138px,#850000 144px,#850000 150px,#850000 156px,#850000 162px,#850000 168px,#850000 174px,#850000 180px,#850000 186px,#850000 192px,#850000 197px)"></div>
<div style="height:2px;background:linear-gradient(90deg,#8f0000 0px,#8f0000 6px,#900000 12px,#900000 18px,#900000 24px,#900000 30px,#900000 36px,#900000 42px,#8f0000 48px,#8f0000 54px,#8e0000 60px,#8c0000 66px,#8b0000 72px,#8a0000 78px,#890000 84px,#880000 90px,#870000 96px,#870000 102px,#870000 108px,#860000 114px,#860000 120px,#860000 126px,#860000 132px,#860000 138px,#860000 144px,#860000 150px,#860000 156px,#860000 162px,#860000 168px,#860000 174px,#860000 180px,#850000 186px,#850000 192px,#850000 197px)"></div>
<div style="height:2px;background:linear-gradient(90deg,#8d0000 0px,#8d0000 6px,#8d0000 12px,#8e0000 18px,#8e0000 24px,#8e0000 30px,#8f0000 36px,#8f0000 42px,#8e0000 48px,#8e0000 54px,#8d0000 60px,#8c0000 66px,#8b0000 72px,#8a0000 78px,#890000 84px,#880000 90px,#880000 96px,#870000 102px,#870000 108px,#870000 114px,#860000 120px,#860000 126px,#860000 132px,#860000 138px,#860000 144px,#860000 150px,#860000 156px,#860000 162px,#860000 168px,#860000 174px,#860000 180px,#860000 186px,#860000 192px,#860000 197px)"></div>
<div style="height:2px;background:linear-gradient(90deg,#8a0000 0px,#8a0000 6px,#8b0000 12px,#8b0000 18px,#8c0000 24px,#8c0000 30px,#8d0000 36px,#8d0000 42px,#8d0000 48px,#8d0000 54px,#8c0000 60px,#8c0000 66px,#8b0000 72px,#8a0000 78px,#890000 84px,#880000 90px,#880000 96px,#880000 102px,#870000 108px,#870000 114px,#870000 120px,#870000 126px,#870000 132px,#870000 138px,#860000 144px,#860000 150px,#860000 156px,#860000 162px,#860000 168px,#860000 174px,#860000 180px,#860000 186px,#860000 192px,#860000 197px)"></div>
<div style="height:2px;background:linear-gradient(90deg,#870000 0px,#880000 6px,#880000 12px,#890000 18px,#890000 24px,#8a0000 30px,#8b0000 36px,#8c0000 42px,#8c0000 48px,#8c0000 54px,#8c0000 60px,#8b0000 66px,#8a0000 72px,#8a0000 78px,#890000 84px,#890000 90px,#880000 96px,#880000 102px,#880000 108px,#870000 114px,#870000 120px,#870000 126px,#870000 132px,#870000 138px,#870000 144px,#870000 150px,#870000 156px,#870000 162px,#870000 168px,#870000 174px,#870000 180px,#870000 186px,#870000 192px,#870000 197px)"></div>
<div style="height:2px;background:linear-gradient(90deg,#840000 0px,#840000 6px,#850000 12px,#860000 18px,#870000 24px,#880000 30px,#890000 36px,#8a0000 42px,#8b0000 48px,#8b0000 54px,#8b0000 60px,#8b0000 66px,#8a0000 72px,#8a0000 78px,#890000 84px,#890000 90px,#880000 96px,#880000 102px,#880000 108px,#880000 114px,#880000 120px,#870000 126px,#870000 132px,#870000 138px,#870000 144px,#870000 150px,#870000 156px,#870000 162px,#870000 168px,#870000 174px,#870000 180px,#870000 186px,#870000 192px,#870000 197px)"></div>
<div style="height:2px;background:linear-gradient(90deg,#810000 0px,#810000 6px,#820000 12px,#830000 18px,#840000 24px,#860000 30px,#870000 36px,#880000 42px,#890000 48px,#8a0000 54px,#8a0000 60px,#8a0000 66px,#8a0000 72px,#8a0000 78px,#890000 84px,#890000 90px,#890000 96px,#880000 102px,#880000 108px,#880000 114px,#880000 120px,#880000 126px,#880000 132px,#880000 138px,#880000 144px,#880000 150px,#880000 156px,#880000 162px,#880000 168px,#880000 174px,#880000 180px,#880000 186px,#880000 192px,#880000 197px)"></div>
<div style="height:2px;background:linear-gradient(90deg,#7d0000 0px,#7d0000 6px,#7e0000 12px,#800000 18px,#810000 24px,#830000 30px,#850000 36px,#870000 42px,#880000 48px,#890000 54px,#890000 60px,#8a0000 66px,#8a0000 72px,#8a0000 78px,#890000 84px,#890000 90px,#890000 96px,#890000 102px,#880000 108px,#880000 114px,#880000 120px,#880000 126px,#880000 132px,#880000 138px,#880000 144px,#880000 150px,#880000 156px,#880000 162px,#880000 168px,#880000 174px,#880000 180px,#880000 186px,#880000 192px,#880000 197px)"></div>
<div style="height:2px;background:linear-gradient(90deg,#790000 0px,#7a0000 6px,#7b0000 12px,#7c0000 18px,#7e0000 24px,#800000 30px,#830000 36px,#850000 42px,#860000 48px,#880000 54px,#890000 60px,#890000 66px,#890000 72px,#890000 78px,#890000 84px,#890000 90px,#890000 96px,#890000 102px,#890000 108px,#890000 114px,#890000 120px,#880000 126px,#880000 132px,#880000 138px,#880000 144px,#880000 150px,#880000 156px,#880000 162px,#880000 168px,#880000 174px,#880000 180px,#880000 186px,#880000 192px,#880000 197px)"></div>
<div style="height:2px;background:linear-gradient(90deg,#750000 0px,#750000 6px,#770000 12px,#780000 18px,#7b0000 24px,#7d0000 30px,#800000 36px,#830000 42px,#850000 48px,#860000 54px,#880000 60px,#890000 66px,#890000 72px,#890000 78px,#890000 84px,#890000 90px,#890000 96px,#890000 102px,#890000 108px,#890000 114px,#890000 120px,#890000 126px,#890000 132px,#890000 138px,#890000 144px,#890000 150px,#890000 156px,#880000 162px,#880000 168px,#880000 174px,#880000 180px,#880000 186px,#880000 192px,#880000 197px)"></div>
<div style="height:2px;background:linear-gradient(90deg,#700000 0px,#710000 6px,#720000 12px,#740000 18px,#770000 24px,#7a0000 30px,#7d0000 36px,#800000 42px,#830000 48px,#850000 54px,#870000 60px,#880000 66px,#890000 72px,#890000 78px,#890000 84px,#890000 90px,#890000 96px,#890000 102px,#890000 108px,#890000 114px,#890000 120px,#890000 126px,#890000 132px,#890000 138px,#890000 144px,#890000 150px,#890000 156px,#890000 162px,#890000 168px,#890000 174px,#890000 180px,#890000 186px,#890000 192px,#890000 197px)"></div>
<div style="height:2px;background:linear-gradient(90deg,#6c0000 0px,#6c0000 6px,#6e0000 12px,#700000 18px,#730000 24px,#770000 30px,#7b0000 36px,#7e0000 42px,#810000 48px,#840000 54px,#860000 60px,#870000 66px,#880000 72px,#890000 78px,#890000 84px,#890000 90px,#890000 96px,#890000 102px,#890000 108px,#890000 114px,#890000 120px,#890000 126px,#890000 132px,#890000 138px,#890000 144px,#890000 150px,#890000 156px,#890000 162px,#890000 168px,#890000 174px,#890000 180px,#890000 186px,#890000 192px,#890000 197px)"></div>
<div style="height:2px;background:linear-gradient(90deg,#660000 0px,#670000 6px,#690000 12px,#6c0000 18px,#6f0000 24px,#730000 30px,#780000 36px,#7c0000 42px,#7f0000 48px,#820000 54px,#850000 60px,#860000 66px,#880000 72px,#880000 78px,#890000 84px,#890000 90px,#890000 96px,#890000 102px,#890000 108px,#890000 114px,#890000 120px,#890000 126px,#890000 132px,#890000 138px,#890000 144px,#890000 150px,#890000 156px,#890000 162px,#890000 168px,#890000 174px,#890000 180px,#890000 186px,#890000 192px,#890000 197px)"></div>
<div style="height:2px;background:linear-gradient(90deg,#610000 0px,#620000 6px,#640000 12px,#670000 18px,#6b0000 24px,#700000 30px,#740000 36px,#790000 42px,#7d0000 48px,#810000 54px,#830000 60px,#860000 66px,#870000 72px,#880000 78px,#890000 84px,#890000 90px,#890000 96px,#8a0000 102px,#8a0000 108px,#8a0000 114px,#8a0000 120px,#890000 126px,#890000 132px,#890000 138px,#890000 144px,#890000 150px,#890000 156px,#890000 162px,#890000 168px,#890000 174px,#890000 180px,#890000 186px,#890000 192px,#890000 197px)"></div>
<div style="height:2px;background:linear-gradient(90deg,#5b0000 0px,#5c0000 6px,#5e0000 12px,#620000 18px,#660000 24px,#6c0000 30px,#710000 36px,#760000 42px,#7b0000 48px,#7f0000 54px,#820000 60px,#850000 66px,#860000 72px,#880000 78px,#890000 84px,#890000 90px,#890000 96px,#8a0000 102px,#8a0000 108px,#8a0000 114px,#8a0000 120px,#8a0000 126px,#8a0000 132px,#8a0000 138px,#8a0000 144px,#8a0000 150px,#8a0000 156px,#8a0000 162px,#8a0000 168px,#890000 174px,#890000 180px,#890000 186px,#890000 192px,#890000 197px)"></div>
<div style="height:2px;background:linear-gradient(90deg,#550000 0px,#560000 6px,#580000 12px,#5c0000 18px,#620000 24px,#670000 30px,#6e0000 36px,#730000 42px,#790000 48px,#7d0000 54px,#810000 60px,#840000 66px,#860000 72px,#870000 78px,#880000 84px,#890000 90px,#890000 96px,#8a0000 102px,#8a0000 108px,#8a0000 114px,#8a0000 120px,#8a0000 126px,#8a0000 132px,#8a0000 138px,#8a0000 144px,#8a0000 150px,#8a0000 156px,#8a0000 162px,#8a0000 168px,#8a0000 174px,#8a0000 180px,#8a0000 186px,#8a0000 192px,#8a0000 197px)"></div>
<div style="height:2px;background:linear-gradient(90deg,#4e0000 0px,#4f0000 6px,#520000 12px,#570000 18px,#5c0000 24px,#630000 30px,#6a0000 36px,#700000 42px,#760000 48px,#7b0000 54px,#7f0000 60px,#830000 66px,#850000 72px,#870000 78px,#880000 84px,#890000 90px,#890000 96px,#8a0000 102px,#8a0000 108px,#8a0000 114px,#8a0000 120px,#8a0000 126px,#8a0000 132px,#8a0000 138px,#8a0000 144px,#8a0000 150px,#8a0000 156px,#8a0000 162px,#8a0000 168px,#8a0000 174px,#8a0000 180px,#8a0000 186px,#8a0000 192px,#8a0000 197px)"></div>
<div style="height:2px;background:linear-gradient(90deg,#470000 0px,#480000 6px,#4b0000 12px,#510000 18px,#570000 24px,#5e0000 30px,#660000 36px,#6d0000 42px,#740000 48px,#790000 54px,#7e0000 60px,#820000 66px,#840000 72px,#860000 78px,#880000 84px,#890000 90px,#890000 96px,#890000 102px,#8a0000 108px,#8a0000 114px,#8a0000 120px,#8a0000 126px,#8a0000 132px,#8a0000 138px,#8a0000 144px,#8a0000 150px,#8a0000 156px,#8a0000 162px,#8a0000 168px,#8a0000 174px,#8a0000 180px,#8a0000 186px,#8a0000 192px,#8a0000 197px)"></div>
<div style="height:2px;background:linear-gradient(90deg,#400000 0px,#410000 6px,#450000 12px,#4a0000 18px,#510000 24px,#590000 30px,#620000 36px,#6a0000 42px,#710000 48px,#770000 54px,#7d0000 60px,#810000 66px,#840000 72px,#860000 78px,#870000 84px,#880000 90px,#890000 96px,#890000 102px,#8a0000 108px,#8a0000 114px,#8a0000 120px,#8a0000 126px,#8a0000 132px,#8a0000 138px,#8a0000 144px,#8a0000 150px,#8a0000 156px,#8a0000 162px,#8a0000 168px,#8a0000 174px,#8a0000 180px,#8a0000 186px,#8a0000 192px,#8a0000 197px)"></div>
<div style="height:2px;background:linear-gradient(90deg,#380000 0px,#390000 6px,#3d0000 12px,#430000 18px,#4b0000 24px,#540000 30px,#5d0000 36px,#660000 42px,#6e0000 48px,#750000 54px,#7b0000 60px,#7f0000 66px,#830000 72px,#850000 78px,#870000 84px,#880000 90px,#890000 96px,#890000 102px,#890000 108px,#8a0000 114px,#8a0000 120px,#8a0000 126px,#8a0000 132px,#8a0000 138px,#8a0000 144px,#8a0000 150px,#8a0000 156px,#8a0000 162px,#8a0000 168px,#8a0000 174px,#8a0000 180px,#8a0000 186px,#8a0000 192px,#8a0000 197px)"></div>
<div style="height:2px;background:linear-gradient(90deg,#300000 0px,#310000 6px,#360000 12px,#3c0000 18px,#450000 24px,#4f0000 30px,#590000 36px,#630000 42px,#6b0000 48px,#730000 54px,#790000 60px,#7e0000 66px,#820000 72px,#850000 78px,#870000 84px,#880000 90px,#890000 96px,#890000 102px,#890000 108px,#8a0000 114px,#8a0000 120px,#8a0000 126px,#8a0000 132px,#8a0000 138px,#8a0000 144px,#8a0000 150px,#8a0000 156px,#8a0000 162px,#8a0000 168px,#8a0000 174px,#8a0000 180px,#8a0000 186px,#8a0000 192px,#8a0000 197px)"></div>
<div style="height:2px;background:linear-gradient(90deg,#280000 0px,#290000 6px,#2e0000 12px,#350000 18px,#3f0000 24px,#490000 30px,#540000 36px,#5f0000 42px,#680000 48px,#710000 54px,#780000 60px,#7d0000 66px,#810000 72px,#840000 78px,#860000 84px,#880000 90px,#880000 96px,#890000 102px,#890000 108px,#8a0000 114px,#8a0000 120px,#8a0000 126px,#8a0000 132px,#8a0000 138px,#8a0000 144px,#8a0000 150px,#8a0000 156px,#8a0000 162px,#8a0000 168px,#8a0000 174px,#8a0000 180px,#8a0000 186px,#8a0000 192px,#8a0000 197px)"></div>
<div style="height:2px;background:linear-gradient(90deg,#1f0000 0px,#210000 6px,#260000 12px,#2e0000 18px,#380000 24px,#430000 30px,#4f0000 36px,#5b0000 42px,#650000 48px,#6e0000 54px,#760000 60px,#7c0000 66px,#800000 72px,#840000 78px,#860000 84px,#870000 90px,#880000 96px,#890000 102px,#890000 108px,#890000 114px,#8a0000 120px,#8a0000 126px,#8a0000 132px,#8a0000 138px,#8a0000 144px,#8a0000 150px,#8a0000 156px,#8a0000 162px,#8a0000 168px,#8a0000 174px,#8a0000 180px,#8a0000 186px,#8a0000 192px,#8a0000 197px)"></div>
<div style="height:2px;background:linear-gradient(90deg,#160000 0px,#180000 6px,#1d0000 12px,#260000 18px,#310000 24px,#3d0000 30px,#4a0000 36px,#570000 42px,#620000 48px,#6c0000 54px,#740000 60px,#7b0000 66px,#800000 72px,#830000 78px,#850000 84px,#870000 90px,#880000 96px,#890000 102px,#890000 108px,#890000 114px,#8a0000 120px,#8a0000 126px,#8a0000 132px,#8a0000 138px,#8a0000 144px,#8a0000 150px,#8a0000 156px,#8a0000 162px,#8a0000 168px,#8a0000 174px,#8a0000 180px,#8a0000 186px,#8a0000 192px,#8a0000 197px)"></div>
<div style="height:2px;background:linear-gradient(90deg,#0c0000 0px,#0e0000 6px,#140000 12px,#1e0000 18px,#2a0000 24px,#370000 30px,#450000 36px,#530000 42px,#5f0000 48px,#6a0000 54px,#720000 60px,#790000 66px,#7f0000 72px,#820000 78px,#850000 84px,#870000 90px,#880000 96px,#890000 102px,#890000 108px,#890000 114px,#8a0000 120px,#8a0000 126px,#8a0000 132px,#8a0000 138px,#8a0000 144px,#8a0000 150px,#8a0000 156px,#8a0000 162px,#8a0000 168px,#8a0000 174px,#8a0000 180px,#8a0000 186px,#8a0000 192px,#8a0000 197px)"></div>
<div style="height:2px;background:linear-gradient(90deg,#030000 0px,#050000 6px,#0b0000 12px,#150000 18px,#220000 24px,#310000 30px,#400000 36px,#4e0000 42px,#5c0000 48px,#670000 54px,#710000 60px,#780000 66px,#7e0000 72px,#820000 78px,#850000 84px,#870000 90px,#880000 96px,#890000 102px,#890000 108px,#890000 114px,#890000 120px,#8a0000 126px,#8a0000 132px,#8a0000 138px,#8a0000 144px,#8a0000 150px,#8a0000 156px,#8a0000 162px,#8a0000 168px,#8a0000 174px,#8a0000 180px,#8a0000 186px,#8a0000 192px,#8a0000 197px)"></div>
<div style="height:2px;background:linear-gradient(90deg,#000000 0px,#000000 6px,#020000 12px,#0d0000 18px,#1b0000 24px,#2a0000 30px,#3a0000 36px,#4a0000 42px,#580000 48px,#640000 54px,#6f0000 60px,#770000 66px,#7d0000 72px,#810000 78px,#840000 84px,#860000 90px,#880000 96px,#880000 102px,#890000 108px,#890000 114px,#890000 120px,#890000 126px,#8a0000 132px,#8a0000 138px,#8a0000 144px,#8a0000 150px,#8a0000 156px,#8a0000 162px,#8a0000 168px,#8a0000 174px,#8a0000 180px,#8a0000 186px,#8a0000 192px,#8a0000 197px)"></div>
<div style="height:2px;background:linear-gradient(90deg,#000000 0px,#000000 6px,#000000 12px,#040000 18px,#130000 24px,#230000 30px,#350000 36px,#450000 42px,#550000 48px,#620000 54px,#6d0000 60px,#750000 66px,#7c0000 72px,#800000 78px,#840000 84px,#860000 90px,#870000 96px,#880000 102px,#890000 108px,#890000 114px,#890000 120px,#890000 126px,#890000 132px,#8a0000 138px,#8a0000 144px,#8a0000 150px,#8a0000 156px,#8a0000 162px,#8a0000 168px,#8a0000 174px,#8a0000 180px,#8a0000 186px,#8a0000 192px,#8a0000 197px)"></div>
<div style="height:2px;background:linear-gradient(90deg,#000000 0px,#000000 6px,#000000 12px,#000000 18px,#0b0000 24px,#1c0000 30px,#2f0000 36px,#410000 42px,#510000 48px,#5f0000 54px,#6b0000 60px,#740000 66px,#7b0000 72px,#800000 78px,#830000 84px,#860000 90px,#870000 96px,#880000 102px,#890000 108px,#890000 114px,#890000 120px,#890000 126px,#890000 132px,#890000 138px,#890000 144px,#890000 150px,#890000 156px,#890000 162px,#8a0000 168px,#8a0000 174px,#8a0000 180px,#8a0000 186px,#8a0000 192px,#8a0000 197px)"></div>
<div style="height:2px;background:linear-gradient(90deg,#000000 0px,#000000 6px,#000000 12px,#000000 18px,#020000 24px,#150000 30px,#290000 36px,#3c0000 42px,#4d0000 48px,#5c0000 54px,#680000 60px,#720000 66px,#7a0000 72px,#7f0000 78px,#830000 84px,#850000 90px,#870000 96px,#880000 102px,#880000 108px,#890000 114px,#890000 120px,#890000 126px,#890000 132px,#890000 138px,#890000 144px,#890000 150px,#890000 156px,#890000 162px,#890000 168px,#890000 174px,#890000 180px,#890000 186px,#890000 192px,#890000 197px)"></div>
<div style="height:2px;background:linear-gradient(90deg,#000000 0px,#000000 6px,#000000 12px,#000000 18px,#000000 24px,#0e0000 30px,#220000 36px,#370000 42px,#490000 48px,#590000 54px,#660000 60px,#700000 66px,#780000 72px,#7e0000 78px,#820000 84px,#850000 90px,#860000 96px,#870000 102px,#880000 108px,#880000 114px,#890000 120px,#890000 126px,#890000 132px,#890000 138px,#890000 144px,#890000 150px,#890000 156px,#890000 162px,#890000 168px,#890000 174px,#890000 180px,#890000 186px,#890000 192px,#890000 197px)"></div>
<div style="height:2px;background:linear-gradient(90deg,#000000 0px,#000000 6px,#000000 12px,#000000 18px,#000000 24px,#060000 30px,#1c0000 36px,#310000 42px,#450000 48px,#560000 54px,#630000 60px,#6e0000 66px,#770000 72px,#7d0000 78px,#810000 84px,#840000 90px,#860000 96px,#870000 102px,#880000 108px,#880000 114px,#880000 120px,#880000 126px,#890000 132px,#890000 138px,#890000 144px,#890000 150px,#890000 156px,#890000 162px,#890000 168px,#890000 174px,#890000 180px,#890000 186px,#890000 192px,#890000 197px)"></div>
<div style="height:2px;background:linear-gradient(90deg,#000000 0px,#000000 6px,#000000 12px,#000000 18px,#000000 24px,#000000 30px,#150000 36px,#2c0000 42px,#400000 48px,#520000 54px,#610000 60px,#6c0000 66px,#750000 72px,#7b0000 78px,#800000 84px,#830000 90px,#850000 96px,#860000 102px,#870000 108px,#870000 114px,#880000 120px,#880000 126px,#880000 132px,#880000 138px,#880000 144px,#880000 150px,#890000 156px,#890000 162px,#890000 168px,#890000 174px,#890000 180px,#890000 186px,#890000 192px,#890000 197px)"></div>
<div style="height:2px;background:linear-gradient(90deg,#000000 0px,#000000 6px,#000000 12px,#000000 18px,#000000 24px,#000000 30px,#0e0000 36px,#260000 42px,#3b0000 48px,#4e0000 54px,#5e0000 60px,#6a0000 66px,#730000 72px,#7a0000 78px,#7f0000 84px,#820000 90px,#840000 96px,#850000 102px,#860000 108px,#870000 114px,#870000 120px,#870000 126px,#870000 132px,#880000 138px,#880000 144px,#880000 150px,#880000 156px,#880000 162px,#880000 168px,#880000 174px,#880000 180px,#890000 186px,#890000 192px,#890000 197px)"></div>
<div style="height:2px;background:linear-gradient(90deg,#000000 0px,#000000 6px,#000000 12px,#000000 18px,#000000 24px,#000000 30px,#070000 36px,#200000 42px,#360000 48px,#4a0000 54px,#5a0000 60px,#670000 66px,#710000 72px,#780000 78px,#7d0000 84px,#800000 90px,#830000 96px,#840000 102px,#850000 108px,#860000 114px,#860000 120px,#860000 126px,#870000 132px,#870000 138px,#870000 144px,#870000 150px,#870000 156px,#870000 162px,#880000 168px,#880000 174px,#880000 180px,#880000 186px,#880000 192px,#880000 197px)"></div>
<div style="height:2px;background:linear-gradient(90deg,#000000 0px,#000000 6px,#000000 12px,#000000 18px,#000000 24px,#000000 30px,#000000 36px,#190000 42px,#310000 48px,#450000 54px,#560000 60px,#640000 66px,#6e0000 72px,#750000 78px,#7b0000 84px,#7e0000 90px,#810000 96px,#820000 102px,#830000 108px,#840000 114px,#850000 120px,#850000 126px,#850000 132px,#860000 138px,#860000 144px,#860000 150px,#860000 156px,#870000 162px,#870000 168px,#870000 174px,#870000 180px,#870000 186px,#880000 192px,#880000 197px)"></div>
<div style="height:2px;background:linear-gradient(90deg,#000000 0px,#000000 6px,#000000 12px,#000000 18px,#000000 24px,#000000 30px,#000000 36px,#120000 42px,#2a0000 48px,#400000 54px,#520000 60px,#600000 66px,#6b0000 72px,#730000 78px,#780000 84px,#7c0000 90px,#7f0000 96px,#800000 102px,#820000 108px,#820000 114px,#830000 120px,#830000 126px,#840000 132px,#840000 138px,#850000 144px,#850000 150px,#850000 156px,#860000 162px,#860000 168px,#860000 174px,#860000 180px,#870000 186px,#870000 192px,#870000 197px)"></div>
<div style="height:2px;background:linear-gradient(90deg,#000000 0px,#000000 6px,#000000 12px,#000000 18px,#000000 24px,#000000 30px,#000000 36px,#0a0000 42px,#240000 48px,#3a0000 54px,#4d0000 60px,#5c0000 66px,#670000 72px,#6f0000 78px,#750000 84px,#790000 90px,#7c0000 96px,#7e0000 102px,#7f0000 108px,#800000 114px,#810000 120px,#820000 126px,#820000 132px,#830000 138px,#830000 144px,#830000 150px,#840000 156px,#840000 162px,#850000 168px,#850000 174px,#850000 180px,#860000 186px,#860000 192px,#860000 197px)"></div>
<div style="height:2px;background:linear-gradient(90deg,#000000 0px,#000000 6px,#000000 12px,#000000 18px,#000000 24px,#000000 30px,#000000 36px,#020000 42px,#1d0000 48px,#340000 54px,#470000 60px,#570000 66px,#630000 72px,#6b0000 78px,#710000 84px,#760000 90px,#790000 96px,#7b0000 102px,#7c0000 108px,#7e0000 114px,#7e0000 120px,#7f0000 126px,#800000 132px,#800000 138px,#810000 144px,#820000 150px,#820000 156px,#830000 162px,#830000 168px,#840000 174px,#840000 180px,#840000 186px,#850000 192px,#850000 197px)"></div>
<div style="height:2px;background:linear-gradient(90deg,#000000 0px,#000000 6px,#000000 12px,#000000 18px,#000000 24px,#000000 30px,#000000 36px,#000000 42px,#150000 48px,#2d0000 54px,#410000 60px,#510000 66px,#5e0000 72px,#670000 78px,#6d0000 84px,#720000 90px,#750000 96px,#770000 102px,#790000 108px,#7a0000 114px,#7b0000 120px,#7c0000 126px,#7d0000 132px,#7e0000 138px,#7f0000 144px,#7f0000 150px,#800000 156px,#810000 162px,#810000 168px,#820000 174px,#830000 180px,#830000 186px,#840000 192px,#840000 197px)"></div>
<div style="height:2px;background:linear-gradient(90deg,#000000 0px,#000000 6px,#000000 12px,#000000 18px,#000000 24px,#000000 30px,#000000 36px,#000000 42px,#0d0000 48px,#260000 54px,#3b0000 60px,#4b0000 66px,#580000 72px,#620000 78px,#680000 84px,#6d0000 90px,#710000 96px,#730000 102px,#750000 108px,#770000 114px,#780000 120px,#790000 126px,#7a0000 132px,#7b0000 138px,#7c0000 144px,#7d0000 150px,#7e0000 156px,#7f0000 162px,#7f0000 168px,#800000 174px,#810000 180px,#810000 186px,#820000 192px,#830000 197px)"></div>
<div style="height:2px;background:linear-gradient(90deg,#000000 0px,#000000 6px,#000000 12px,#000000 18px,#000000 24px,#000000 30px,#000000 36px,#000000 42px,#040000 48px,#1e0000 54px,#340000 60px,#450000 66px,#520000 72px,#5c0000 78px,#630000 84px,#680000 90px,#6c0000 96px,#6f0000 102px,#710000 108px,#730000 114px,#740000 120px,#760000 126px,#770000 132px,#780000 138px,#790000 144px,#7a0000 150px,#7b0000 156px,#7c0000 162px,#7d0000 168px,#7e0000 174px,#7f0000 180px,#800000 186px,#800000 192px,#810000 197px)"></div>
<div style="height:2px;background:linear-gradient(90deg,#000000 0px,#000000 6px,#000000 12px,#000000 18px,#000000 24px,#000000 30px,#000000 36px,#000000 42px,#000000 48px,#160000 54px,#2c0000 60px,#3e0000 66px,#4c0000 72px,#560000 78px,#5e0000 84px,#630000 90px,#670000 96px,#6a0000 102px,#6d0000 108px,#6e0000 114px,#700000 120px,#720000 126px,#730000 132px,#740000 138px,#760000 144px,#770000 150px,#780000 156px,#790000 162px,#7b0000 168px,#7c0000 174px,#7d0000 180px,#7e0000 186px,#7f0000 192px,#7f0000 197px)"></div>
<div style="height:2px;background:linear-gradient(90deg,#0f0000 0px,#000000 6px,#000000 12px,#000000 18px,#000000 24px,#000000 30px,#000000 36px,#000000 42px,#000000 48px,#0e0000 54px,#240000 60px,#370000 66px,#450000 72px,#500000 78px,#580000 84px,#5e0000 90px,#620000 96px,#650000 102px,#680000 108px,#6a0000 114px,#6c0000 120px,#6e0000 126px,#6f0000 132px,#710000 138px,#720000 144px,#740000 150px,#750000 156px,#770000 162px,#780000 168px,#790000 174px,#7b0000 180px,#7c0000 186px,#7d0000 192px,#7e0000 197px)"></div>
<div style="height:2px;background:linear-gradient(90deg,#4a0000 0px,#000000 6px,#000000 12px,#000000 18px,#000000 24px,#000000 30px,#000000 36px,#000000 42px,#000000 48px,#060000 54px,#1d0000 60px,#300000 66px,#3f0000 72px,#4a0000 78px,#520000 84px,#580000 90px,#5d0000 96px,#600000 102px,#630000 108px,#650000 114px,#680000 120px,#6a0000 126px,#6b0000 132px,#6d0000 138px,#6f0000 144px,#710000 150px,#720000 156px,#740000 162px,#750000 168px,#770000 174px,#780000 180px,#7a0000 186px,#7b0000 192px,#7c0000 197px)"></div>
<div style="height:2px;background:linear-gradient(90deg,#800000 0px,#000000 6px,#000000 12px,#000000 18px,#000000 24px,#000000 30px,#000000 36px,#000000 42px,#000000 48px,#000000 54px,#160000 60px,#290000 66px,#380000 72px,#440000 78px,#4c0000 84px,#530000 90px,#580000 96px,#5b0000 102px,#5e0000 108px,#610000 114px,#630000 120px,#660000 126px,#680000 132px,#6a0000 138px,#6c0000 144px,#6e0000 150px,#6f0000 156px,#710000 162px,#730000 168px,#750000 174px,#760000 180px,#780000 186px,#790000 192px,#7a0000 197px)"></div>
<div style="height:2px;background:linear-gradient(90deg,#ad0000 0px,#000000 6px,#000000 12px,#000000 18px,#000000 24px,#000000 30px,#000000 36px,#000000 42px,#000000 48px,#000000 54px,#100000 60px,#230000 66px,#330000 72px,#3e0000 78px,#470000 84px,#4e0000 90px,#530000 96px,#570000 102px,#5a0000 108px,#5d0000 114px,#600000 120px,#620000 126px,#640000 132px,#670000 138px,#690000 144px,#6b0000 150px,#6d0000 156px,#6f0000 162px,#710000 168px,#730000 174px,#740000 180px,#760000 186px,#780000 192px,#790000 197px)"></div>
<div style="height:2px;background:linear-gradient(90deg,#cc0000 0px,#000000 6px,#000000 12px,#000000 18px,#000000 24px,#000000 30px,#000000 36px,#000000 42px,#000000 48px,#000000 54px,#0a0000 60px,#1e0000 66px,#2e0000 72px,#3a0000 78px,#430000 84px,#4a0000 90px,#4f0000 96px,#530000 102px,#570000 108px,#5a0000 114px,#5c0000 120px,#5f0000 126px,#620000 132px,#640000 138px,#660000 144px,#680000 150px,#6b0000 156px,#6d0000 162px,#6f0000 168px,#710000 174px,#730000 180px,#740000 186px,#760000 192px,#780000 197px)"></div>
<div style="height:2px;background:linear-gradient(90deg,#dd0000 0px,#0e0000 6px,#000000 12px,#000000 18px,#000000 24px,#000000 30px,#000000 36px,#000000 42px,#000000 48px,#000000 54px,#060000 60px,#1a0000 66px,#2a0000 72px,#360000 78px,#400000 84px,#470000 90px,#4c0000 96px,#500000 102px,#540000 108px,#570000 114px,#5a0000 120px,#5d0000 126px,#5f0000 132px,#620000 138px,#640000 144px,#670000 150px,#690000 156px,#6b0000 162px,#6d0000 168px,#6f0000 174px,#710000 180px,#730000 186px,#750000 192px,#770000 197px)"></div>
<div style="height:2px;background:linear-gradient(90deg,#e40000 0px,#220000 6px,#000000 12px,#000000 18px,#000000 24px,#000000 30px,#000000 36px,#000000 42px,#000000 48px,#000000 54px,#030000 60px,#180000 66px,#280000 72px,#340000 78px,#3d0000 84px,#450000 90px,#4a0000 96px,#4f0000 102px,#520000 108px,#550000 114px,#580000 120px,#5b0000 126px,#5e0000 132px,#600000 138px,#630000 144px,#650000 150px,#680000 156px,#6a0000 162px,#6c0000 168px,#6f0000 174px,#710000 180px,#730000 186px,#740000 192px,#760000 197px)"></div>
<div style="height:1px;background:linear-gradient(90deg,#e50000 0px,#5f0000 6px,#270000 12px,#000000 18px,#000000 24px,#000000 30px,#000000 36px,#000000 42px,#000000 48px,#000000 54px,#020000 60px,#170000 66px,#270000 72px,#330000 78px,#3d0000 84px,#440000 90px,#490000 96px,#4e0000 102px,#520000 108px,#550000 114px,#580000 120px,#5b0000 126px,#5d0000 132px,#600000 138px,#630000 144px,#650000 150px,#670000 156px,#6a0000 162px,#6c0000 168px,#6e0000 174px,#700000 180px,#720000 186px,#740000 192px,#760000 197px)"></div>
</div>
<div class="hm" style="left:267px;top:36px;width:15px;height:197px;background:linear-gradient(180deg,#ff0000 0.00%,#ff2900 4.17%,#ff5200 8.33%,#ff7b00 12.50%,#ffa400 16.67%,#ffcd00 20.83%,#fff700 25.00%,#dcff00 29.17%,#b0ff00 33.33%,#84ff00 37.50%,#58ff00 41.67%,#2cff00 45.83%,#00ff00 50.00%,#00ff35 54.17%,#00ff69 58.33%,#00ff9e 62.50%,#00ffd3 66.67%,#00f7ff 70.83%,#00c8ff 75.00%,#0078ff 79.17%,#002fff 83.33%,#0d00ff 87.50%,#3700ff 91.67%,#6200ff 95.83%,#8c00ff 100.00%)"></div>
<div class="hm" style="left:563px;top:36px;width:14px;height:197px;background:linear-gradient(180deg,#ffffff 0.00%,#ffffca 4.17%,#ffff95 8.33%,#ffff60 12.50%,#ffff2b 16.67%,#fff900 20.83%,#ffdd00 25.00%,#ffc100 29.17%,#ffa600 33.33%,#ff8a00 37.50%,#ff6e00 41.67%,#ff5200 45.83%,#ff3600 50.00%,#ff1a00 54.17%,#ff0000 58.33%,#ef0000 62.50%,#d50000 66.67%,#ba0000 70.83%,#9f0000 75.00%,#850000 79.17%,#6a0000 83.33%,#500000 87.50%,#350000 91.67%,#1b0000 95.83%,#000000 100.00%)"></div>
<svg width="578" height="271" viewBox="0 0 578 271">
<path d="M40.5 36.3L40.5 43.6M50.4 36.3L50.4 43.6M60.2 36.3L60.2 43.6M70.1 36.3L70.1 43.6M80.0 36.3L80.0 43.6M90.6 36.4L89.4 43.6M100.5 36.4L99.2 43.6M110.3 36.4L109.1 43.6M120.3 36.4L118.9 43.6M130.2 36.4L128.7 43.6M140.2 36.5L138.5 43.5M150.1 36.5L148.3 43.5M160.0 36.5L158.2 43.5M169.8 36.5L168.1 43.5M179.7 36.5L177.9 43.5M189.5 36.5L187.8 43.5M199.4 36.5L197.6 43.5M209.2 36.4L207.5 43.6M219.0 36.4L217.4 43.6M228.5 36.4L227.5 43.6M40.5 46.2L40.5 53.5M50.4 46.2L50.4 53.5M60.2 46.2L60.2 53.5M70.1 46.2L70.1 53.5M80.0 46.2L80.0 53.5M90.6 46.3L89.4 53.4M100.5 46.3L99.2 53.4M110.3 46.3L109.1 53.4M120.3 46.3L118.9 53.4M130.2 46.3L128.7 53.4M140.2 46.3L138.5 53.4M150.1 46.3L148.3 53.4M159.9 46.3L158.2 53.4M169.6 46.3L168.2 53.4M179.2 46.2L178.2 53.5M188.9 46.2L188.1 53.5M198.7 46.2L198.1 53.5M208.6 46.2L207.9 53.5M218.3 46.2L217.8 53.5M227.2 46.2L228.2 53.5M40.5 56.0L40.5 63.4M50.4 56.0L50.4 63.4M60.2 56.0L60.2 63.4M70.1 56.0L70.1 63.4M80.0 56.0L80.0 63.4M90.6 56.1L89.4 63.3M100.5 56.1L99.2 63.3M110.3 56.1L109.1 63.3M120.2 56.1L118.9 63.3M130.1 56.1L128.8 63.3M140.2 56.2L138.5 63.3M150.0 56.2L148.4 63.3M159.8 56.2L158.3 63.3M169.5 56.1L168.2 63.3M178.9 56.1L178.4 63.3M188.4 56.0L188.4 63.4M198.3 56.0L198.3 63.4M207.9 56.1L208.3 63.3M216.1 56.5L219.2 63.1M225.2 56.9L229.4 62.9M40.5 65.9L40.5 73.2M50.4 65.9L50.4 73.2M60.2 65.9L60.2 73.2M70.1 65.9L70.1 73.2M80.0 65.9L80.0 73.2M90.5 66.0L89.5 73.2M100.3 66.0L99.3 73.2M110.2 66.0L109.2 73.2M120.1 66.0L119.0 73.2M130.0 66.0L128.8 73.2M140.1 66.0L138.6 73.2M149.9 66.0L148.4 73.2M159.6 66.0L158.4 73.2M169.4 66.0L168.3 73.2M178.7 65.9L178.5 73.2M188.4 65.9L188.4 73.2M197.1 66.1L199.0 73.1M205.8 66.5L209.5 72.8M214.8 67.3L219.9 72.4M224.1 67.9L230.1 72.1M40.5 75.8L40.5 83.1M50.4 75.8L50.4 83.1M60.2 75.8L60.2 83.1M70.1 75.8L70.1 83.1M80.0 75.8L80.0 83.1M90.3 75.8L89.5 83.1M100.2 75.8L99.4 83.1M110.0 75.8L109.3 83.1M119.9 75.8L119.1 83.1M129.8 75.8L128.9 83.0M139.9 75.8L138.7 83.0M149.8 75.8L148.5 83.0M159.5 75.8L158.5 83.0M169.1 75.8L168.5 83.1M178.2 75.8L178.8 83.1M186.9 76.0L189.4 82.9M195.3 76.8L200.0 82.4M204.6 77.4L210.2 82.1M214.0 78.1L220.3 81.7M223.7 78.4L230.3 81.5M40.5 85.6L40.5 92.9M50.4 85.6L50.4 92.9M60.2 85.6L60.2 92.9M70.1 85.6L70.1 92.9M80.0 85.6L80.0 92.9M89.6 85.6L90.0 92.9M99.4 85.6L99.8 92.9M109.3 85.6L109.7 92.9M119.2 85.6L119.6 92.9M129.0 85.6L129.4 92.9M139.1 85.6L139.1 92.9M149.0 85.6L149.0 92.9M158.7 85.6L158.9 92.9M167.9 85.7L169.2 92.9M176.3 86.2L179.9 92.6M185.5 86.7L190.2 92.3M194.5 87.6L200.5 91.8M204.1 88.1L210.5 91.5M213.7 88.7L220.5 91.2M223.4 89.0L230.5 90.9M40.5 95.5L40.5 102.8M50.4 95.5L50.4 102.8M60.2 95.5L60.2 102.8M70.1 95.5L70.1 102.8M80.0 95.5L80.0 102.8M89.4 95.5L90.1 102.8M99.3 95.5L99.9 102.8M109.1 95.5L109.8 102.8M119.0 95.5L119.6 102.8M128.9 95.5L129.5 102.8M139.0 95.5L139.2 102.8M148.6 95.5L149.2 102.8M157.7 95.6L159.5 102.7M166.4 96.1L170.1 102.4M175.3 96.8L180.5 102.0M184.8 97.3L190.6 101.8M194.1 98.1L200.7 101.2M203.7 98.9L210.8 100.8M213.5 99.3L220.7 100.6M223.3 99.4L230.5 100.5M40.5 105.3L40.5 112.6M50.1 105.4L50.5 112.6M59.8 105.4L60.5 112.6M69.6 105.4L70.4 112.6M79.5 105.4L80.3 112.6M89.0 105.4L90.3 112.6M98.9 105.4L100.2 112.6M108.8 105.4L110.0 112.6M118.5 105.5L120.0 112.6M128.3 105.5L129.8 112.6M138.7 105.4L139.4 112.6M147.8 105.5L149.7 112.6M156.9 105.8L160.0 112.4M165.8 106.4L170.4 112.0M175.0 107.0L180.6 111.7M184.4 107.6L190.8 111.3M193.8 108.8L200.9 110.6M203.6 109.5L210.8 110.2M213.4 109.6L220.7 110.1M223.3 109.8L230.6 110.0M40.5 115.2L40.5 122.5M49.9 115.2L50.7 122.5M59.6 115.3L60.6 122.5M69.4 115.3L70.5 122.5M79.2 115.3L80.4 122.5M88.8 115.3L90.4 122.4M98.7 115.3L100.3 122.4M108.4 115.3L110.2 122.4M118.2 115.4L120.1 122.4M128.1 115.4L130.0 122.4M137.9 115.4L139.8 122.4M147.0 115.6L150.1 122.3M156.2 116.0L160.4 122.0M165.2 116.9L170.8 121.5M174.6 117.5L180.9 121.2M183.9 119.0L191.1 120.3M193.7 119.5L201.0 120.0M203.6 119.6L210.8 119.9M213.4 119.7L220.7 119.9M223.3 119.8L230.6 119.8M40.5 125.1L40.5 132.4M49.7 125.1L50.8 132.3M59.5 125.1L60.7 132.3M69.3 125.1L70.6 132.3M79.2 125.1L80.4 132.3M88.6 125.2L90.5 132.3M98.5 125.2L100.4 132.3M108.3 125.2L110.3 132.3M118.0 125.3L120.2 132.2M127.8 125.3L130.1 132.2M137.6 125.3L140.1 132.2M146.7 125.7L150.3 132.0M155.6 126.4L160.8 131.6M164.9 127.0L170.9 131.2M174.4 127.7L181.0 130.8M183.8 129.3L191.1 129.9M193.7 129.5L201.0 129.8M203.6 129.7L210.8 129.7M213.4 129.7L220.7 129.7M223.3 129.7L230.6 129.7M40.5 134.9L40.5 142.2M49.6 135.0L50.9 142.2M59.1 135.1L60.9 142.1M68.9 135.1L70.8 142.1M78.4 135.2L80.9 142.1M88.3 135.2L90.8 142.1M98.1 135.2L100.6 142.1M107.6 135.4L110.7 142.0M117.5 135.4L120.6 142.0M127.0 135.5L130.6 141.9M136.2 136.0L140.9 141.6M145.5 136.6L151.1 141.3M154.9 137.2L161.2 140.9M164.4 138.0L171.2 140.5M174.0 138.7L181.2 140.0M183.8 139.5L191.1 139.5M193.7 139.5L201.0 139.5M203.6 139.5L210.8 139.5M213.4 139.5L220.7 139.5M223.3 139.5L230.6 139.5M40.5 144.8L40.5 152.1M49.2 144.9L51.1 152.0M58.7 145.1L61.2 151.9M68.5 145.1L71.0 151.9M78.4 145.1L80.9 151.9M88.3 145.1L90.8 151.9M97.7 145.2L100.8 151.8M107.6 145.2L110.7 151.8M117.1 145.4L120.8 151.7M126.6 145.6L130.8 151.6M135.9 146.1L141.0 151.3M145.2 146.8L151.2 150.9M154.7 147.4L161.3 150.5M164.3 148.2L171.3 150.1M174.0 148.7L181.2 149.8M183.8 149.4L191.1 149.4M193.7 149.4L201.0 149.4M203.6 149.4L210.8 149.4M213.4 149.4L220.7 149.4M223.3 149.4L230.6 149.4M40.5 154.7L40.5 161.9M48.4 155.1L51.5 161.7M58.0 155.3L61.6 161.6M67.8 155.3L71.5 161.6M78.0 155.1L81.1 161.7M87.9 155.1L91.0 161.7M97.7 155.1L100.8 161.7M107.3 155.3L110.9 161.6M117.1 155.3L120.8 161.6M126.6 155.5L130.8 161.5M135.6 156.3L141.2 161.0M145.0 156.9L151.3 160.6M154.5 157.7L161.4 160.2M164.2 158.3L171.4 159.8M174.0 158.8L181.3 159.5M183.8 159.2L191.1 159.2M193.7 159.2L201.0 159.2M203.6 159.2L210.8 159.2M213.4 159.2L220.7 159.2M223.3 159.2L230.6 159.2M39.9 164.6L40.9 171.8M45.8 169.1L53.1 169.1M56.5 166.5L62.5 170.7M67.2 165.6L71.8 171.2M77.7 165.1L81.3 171.4M87.9 164.9L91.0 171.6M97.5 165.0L101.0 171.5M107.3 165.1L110.9 171.4M117.0 165.2L120.8 171.4M126.4 165.5L130.9 171.2M135.4 166.5L141.3 170.7M144.8 167.2L151.4 170.3M154.4 167.9L161.5 169.8M164.2 168.3L171.4 169.6M174.0 168.7L181.3 169.3M183.8 169.1L191.1 169.1M193.7 169.1L201.0 169.1M203.6 169.1L210.8 169.1M213.4 169.1L220.7 169.1M223.3 169.1L230.6 169.1M42.5 183.1L39.4 176.5M48.1 183.0L51.7 176.6M55.7 178.2L62.9 179.4M66.9 175.7L72.0 180.9M78.4 174.6L80.9 181.5M87.9 174.8L91.0 181.4M97.7 174.8L100.8 181.4M107.3 175.0L110.9 181.3M116.8 175.2L121.0 181.2M126.3 175.4L131.0 181.0M135.4 176.3L141.3 180.5M144.8 177.0L151.4 180.1M154.4 177.8L161.5 179.7M164.2 178.3L171.4 179.3M174.0 178.7L181.3 179.1M183.8 179.0L191.1 179.0M193.7 179.0L201.0 179.0M203.6 179.0L210.8 179.0M213.4 179.0L220.7 179.0M223.3 179.0L230.6 179.0M44.9 190.4L38.0 187.9M52.0 193.2L49.5 186.3M64.0 191.5L58.0 187.3M71.7 184.5L69.2 191.4M80.0 184.2L80.0 191.5M89.0 184.3L90.3 191.5M98.5 184.4L100.4 191.4M107.6 184.7L110.7 191.3M117.1 184.8L120.8 191.2M126.3 185.3L131.0 190.9M135.6 185.9L141.2 190.6M145.0 186.5L151.3 190.2M154.5 187.3L161.4 189.8M164.2 188.0L171.4 189.3M174.0 188.4L181.3 189.1M183.8 188.8L191.1 188.8M193.7 188.8L201.0 188.8M203.6 188.8L210.8 188.8M213.4 188.8L220.7 188.8M223.3 188.8L230.6 188.8M44.9 197.1L38.0 199.6M54.4 201.0L48.1 197.3M64.8 198.7L57.5 198.7M74.7 198.3L67.4 198.9M83.2 195.4L78.1 200.6M90.6 194.2L89.4 201.3M99.3 194.1L99.9 201.4M108.4 194.2L110.2 201.3M117.5 194.5L120.6 201.1M126.3 195.2L131.0 200.8M135.6 195.7L141.2 200.4M145.0 196.4L151.3 200.0M154.5 197.3L161.4 199.5M164.2 198.0L171.4 199.1M174.0 198.4L181.3 198.8M183.8 198.7L191.1 198.7M193.7 198.7L201.0 198.7M203.6 198.7L210.8 198.7M213.4 198.7L220.7 198.7M223.3 198.7L230.6 198.7M45.1 207.8L37.9 209.0M54.7 207.0L47.9 209.5M64.2 206.2L57.9 209.9M73.6 205.6L68.0 210.3M83.2 205.3L78.1 210.5M92.9 205.1L88.0 210.6M100.5 204.0L99.2 211.2M109.1 204.0L109.8 211.2M116.5 205.0L121.1 210.6M125.7 205.6L131.3 210.3M135.1 206.2L141.5 209.9M144.7 207.0L151.5 209.5M154.4 207.6L161.5 209.1M164.1 208.1L171.4 208.8M174.0 208.4L181.3 208.6M183.8 208.5L191.1 208.5M193.7 208.5L201.0 208.5M203.6 208.5L210.8 208.5M213.4 208.5L220.7 208.5M223.3 208.5L230.6 208.5M45.1 218.0L37.8 218.6M54.4 216.1L48.1 219.8M63.8 215.5L58.2 220.1M73.1 214.9L68.4 220.5M81.5 214.1L79.0 220.9M89.3 213.8L90.2 221.1M97.1 214.6L101.2 220.6M106.3 215.2L111.5 220.3M115.4 216.1L121.7 219.8M125.1 216.5L131.7 219.6M134.7 217.2L141.7 219.1M144.4 218.0L151.7 218.6M154.3 218.2L161.5 218.5M164.1 218.4L171.4 218.4M174.0 218.4L181.3 218.4M183.8 218.4L191.1 218.4M193.7 218.4L201.0 218.4M203.6 218.4L210.8 218.4M213.4 218.4L220.7 218.4M223.3 218.4L230.6 218.4M44.5 226.0L38.2 229.6M52.0 223.9L49.5 230.8M61.8 223.9L59.3 230.8M72.4 224.3L68.8 230.6M82.3 224.3L78.6 230.6M91.8 224.1L88.7 230.7M98.1 223.9L100.6 230.8M105.6 226.0L111.9 229.6M115.0 227.1L122.0 229.0M124.7 227.5L131.9 228.7M134.5 228.3L141.8 228.3M144.4 228.3L151.7 228.3M154.3 228.3L161.6 228.3M164.1 228.3L171.4 228.3M174.0 228.3L181.3 228.3M183.8 228.3L191.1 228.3M193.7 228.3L201.0 228.3M203.6 228.3L210.8 228.3M213.4 228.3L220.7 228.3M223.3 228.3L230.6 228.3" stroke="#000" stroke-width="0.8" fill="none" stroke-opacity="0.65"/><path d="M40.5 46.5L39.0 43.1L42.0 43.1ZM50.4 46.5L48.9 43.1L51.9 43.1ZM60.2 46.5L58.8 43.1L61.8 43.1ZM70.1 46.5L68.6 43.1L71.6 43.1ZM80.0 46.5L78.5 43.1L81.5 43.1ZM88.9 46.4L88.0 42.8L90.9 43.4ZM98.7 46.4L97.8 42.8L100.8 43.4ZM108.6 46.4L107.7 42.8L110.6 43.4ZM118.3 46.4L117.5 42.8L120.5 43.4ZM128.1 46.4L127.3 42.8L130.3 43.4ZM137.8 46.4L137.1 42.7L140.1 43.4ZM147.6 46.4L147.0 42.7L149.9 43.4ZM157.5 46.4L156.9 42.7L159.8 43.4ZM167.4 46.4L166.7 42.7L169.6 43.4ZM177.2 46.4L176.6 42.7L179.5 43.4ZM187.1 46.4L186.4 42.7L189.4 43.4ZM196.9 46.4L196.3 42.7L199.2 43.4ZM206.9 46.4L206.2 42.7L209.1 43.4ZM216.8 46.4L216.1 42.8L219.0 43.4ZM227.1 46.5L226.1 42.9L229.0 43.3ZM40.5 56.4L39.0 53.0L42.0 53.0ZM50.4 56.4L48.9 53.0L51.9 53.0ZM60.2 56.4L58.8 53.0L61.8 53.0ZM70.1 56.4L68.6 53.0L71.6 53.0ZM80.0 56.4L78.5 53.0L81.5 53.0ZM88.9 56.3L88.0 52.7L90.9 53.2ZM98.7 56.3L97.8 52.7L100.8 53.2ZM108.6 56.3L107.7 52.7L110.6 53.2ZM118.3 56.3L117.5 52.7L120.5 53.2ZM128.1 56.3L127.3 52.6L130.3 53.3ZM137.8 56.2L137.1 52.6L140.1 53.3ZM147.6 56.2L147.0 52.6L149.9 53.3ZM157.6 56.2L156.9 52.6L159.8 53.3ZM167.6 56.3L166.8 52.7L169.8 53.2ZM177.8 56.3L176.8 52.8L179.7 53.2ZM187.8 56.4L186.7 52.8L189.7 53.1ZM197.8 56.4L196.6 52.9L199.6 53.1ZM207.7 56.4L206.5 52.9L209.5 53.1ZM217.6 56.4L216.4 52.9L219.4 53.1ZM228.6 56.3L226.7 53.2L229.7 52.8ZM40.5 66.2L39.0 62.9L42.0 62.9ZM50.4 66.2L48.9 62.9L51.9 62.9ZM60.2 66.2L58.8 62.9L61.8 62.9ZM70.1 66.2L68.6 62.9L71.6 62.9ZM80.0 66.2L78.5 62.9L81.5 62.9ZM88.9 66.2L88.0 62.6L90.9 63.1ZM98.7 66.2L97.8 62.6L100.8 63.1ZM108.6 66.2L107.7 62.6L110.6 63.1ZM118.4 66.2L117.6 62.6L120.5 63.1ZM128.2 66.1L127.4 62.5L130.3 63.1ZM137.9 66.1L137.2 62.5L140.1 63.1ZM147.7 66.1L147.0 62.5L150.0 63.1ZM157.7 66.1L156.9 62.5L159.9 63.1ZM167.7 66.2L166.9 62.6L169.8 63.1ZM178.2 66.2L176.9 62.7L179.9 62.9ZM188.4 66.2L186.9 62.9L189.9 62.9ZM198.3 66.2L196.8 62.9L199.8 62.9ZM208.4 66.2L206.8 62.9L209.8 62.8ZM220.4 65.7L217.6 63.3L220.3 62.0ZM231.1 65.2L227.9 63.3L230.4 61.6ZM40.5 76.1L39.0 72.7L42.0 72.7ZM50.4 76.1L48.9 72.7L51.9 72.7ZM60.2 76.1L58.8 72.7L61.8 72.7ZM70.1 76.1L68.6 72.7L71.6 72.7ZM80.0 76.1L78.5 72.7L81.5 72.7ZM89.1 76.1L88.0 72.5L91.0 72.9ZM98.9 76.1L97.9 72.5L100.9 72.9ZM108.8 76.1L107.8 72.5L110.7 72.9ZM118.6 76.1L117.6 72.5L120.6 72.9ZM128.4 76.0L127.4 72.4L130.4 72.9ZM138.0 76.0L137.2 72.4L140.1 73.0ZM147.8 76.0L147.1 72.4L150.0 73.0ZM157.9 76.0L157.0 72.4L159.9 72.9ZM167.9 76.1L166.9 72.5L169.9 72.9ZM178.4 76.1L177.0 72.7L180.0 72.8ZM188.4 76.1L186.9 72.7L189.9 72.7ZM199.7 75.9L197.4 73.0L200.3 72.2ZM211.0 75.4L208.0 73.2L210.5 71.7ZM222.0 74.5L218.5 73.1L220.6 71.0ZM232.5 73.7L228.8 73.0L230.5 70.5ZM40.5 86.0L39.0 82.6L42.0 82.6ZM50.4 86.0L48.9 82.6L51.9 82.6ZM60.2 86.0L58.8 82.6L61.8 82.6ZM70.1 86.0L68.6 82.6L71.6 82.6ZM80.0 86.0L78.5 82.6L81.5 82.6ZM89.2 85.9L88.1 82.4L91.1 82.7ZM99.1 85.9L98.0 82.4L101.0 82.7ZM109.0 85.9L107.8 82.4L110.8 82.7ZM118.8 85.9L117.7 82.4L120.7 82.7ZM128.6 85.9L127.5 82.4L130.5 82.7ZM138.2 85.9L137.3 82.3L140.2 82.8ZM148.0 85.9L147.1 82.3L150.1 82.8ZM158.1 85.9L157.1 82.3L160.0 82.8ZM168.2 85.9L167.0 82.4L170.0 82.7ZM179.1 85.9L177.3 82.7L180.3 82.4ZM190.3 85.6L187.8 83.0L190.6 81.9ZM201.9 84.7L198.6 83.0L200.9 81.1ZM212.4 84.0L208.9 82.9L210.8 80.6ZM222.9 83.2L219.2 82.8L220.7 80.2ZM232.9 82.7L229.2 82.7L230.5 79.9ZM40.5 95.8L39.0 92.4L42.0 92.4ZM50.4 95.8L48.9 92.4L51.9 92.4ZM60.2 95.8L58.8 92.4L61.8 92.4ZM70.1 95.8L68.6 92.4L71.6 92.4ZM80.0 95.8L78.5 92.4L81.5 92.4ZM90.1 95.8L88.4 92.5L91.4 92.3ZM100.0 95.8L98.3 92.5L101.3 92.3ZM109.8 95.8L108.2 92.5L111.2 92.3ZM119.7 95.8L118.0 92.5L121.0 92.3ZM129.6 95.8L127.9 92.5L130.9 92.3ZM139.1 95.8L137.6 92.4L140.6 92.4ZM149.0 95.8L147.5 92.4L150.5 92.4ZM159.0 95.8L157.4 92.5L160.4 92.4ZM169.7 95.7L167.6 92.7L170.6 92.1ZM181.4 95.1L178.4 92.9L181.0 91.4ZM192.0 94.5L188.7 92.9L191.0 91.0ZM202.9 93.4L199.2 92.7L201.0 90.3ZM213.1 92.9L209.4 92.6L210.8 89.9ZM223.3 92.1L219.6 92.4L220.6 89.6ZM233.3 91.7L229.6 92.2L230.4 89.4ZM40.5 105.7L39.0 102.3L42.0 102.3ZM50.4 105.7L48.9 102.3L51.9 102.3ZM60.2 105.7L58.8 102.3L61.8 102.3ZM70.1 105.7L68.6 102.3L71.6 102.3ZM80.0 105.7L78.5 102.3L81.5 102.3ZM90.3 105.7L88.5 102.4L91.5 102.2ZM100.2 105.7L98.4 102.4L101.4 102.2ZM110.0 105.7L108.2 102.4L111.2 102.2ZM119.9 105.7L118.1 102.4L121.1 102.2ZM129.8 105.7L128.0 102.4L131.0 102.2ZM139.3 105.7L137.7 102.3L140.7 102.2ZM149.5 105.7L147.7 102.4L150.7 102.2ZM160.3 105.5L158.0 102.6L160.9 101.8ZM171.5 104.9L168.5 102.7L171.1 101.2ZM182.5 104.0L179.1 102.7L181.2 100.6ZM192.8 103.5L189.2 102.6L191.1 100.3ZM203.4 102.5L199.6 102.4L200.9 99.7ZM213.6 101.5L209.9 102.1L210.7 99.2ZM223.5 101.1L219.9 101.9L220.4 99.0ZM233.4 100.9L229.8 101.9L230.3 98.9ZM40.5 115.5L39.0 112.1L42.0 112.1ZM50.7 115.5L49.0 112.2L52.0 112.1ZM60.7 115.5L58.9 112.3L61.9 112.0ZM70.7 115.5L68.8 112.3L71.8 112.0ZM80.6 115.5L78.7 112.3L81.7 112.0ZM90.8 115.5L88.7 112.4L91.7 111.9ZM100.7 115.5L98.6 112.4L101.5 111.9ZM110.5 115.5L108.5 112.4L111.4 111.9ZM120.6 115.4L118.4 112.4L121.3 111.8ZM130.4 115.4L128.3 112.4L131.2 111.8ZM139.6 115.5L137.8 112.3L140.8 112.0ZM150.4 115.4L148.1 112.5L151.0 111.7ZM161.2 115.0L158.4 112.6L161.1 111.3ZM172.3 114.2L169.0 112.6L171.3 110.7ZM182.9 113.5L179.3 112.5L181.2 110.2ZM193.3 112.7L189.6 112.3L191.1 109.8ZM203.7 111.4L200.0 112.0L200.8 109.1ZM213.7 110.4L210.2 111.6L210.5 108.6ZM223.6 110.3L220.1 111.6L220.3 108.6ZM233.5 110.1L230.0 111.5L230.1 108.5ZM40.5 125.4L39.0 122.0L42.0 122.0ZM51.0 125.4L49.1 122.2L52.1 121.8ZM61.0 125.4L59.1 122.2L62.0 121.8ZM71.0 125.3L69.0 122.2L71.9 121.7ZM80.9 125.3L78.9 122.2L81.8 121.7ZM91.1 125.3L88.9 122.3L91.8 121.6ZM100.9 125.3L98.7 122.3L101.6 121.6ZM110.9 125.2L108.6 122.3L111.5 121.6ZM120.9 125.2L118.5 122.3L121.4 121.5ZM130.7 125.2L128.4 122.3L131.3 121.5ZM140.6 125.2L138.3 122.3L141.1 121.5ZM151.4 124.9L148.6 122.4L151.3 121.2ZM162.1 124.4L158.9 122.5L161.3 120.8ZM173.0 123.4L169.4 122.4L171.4 120.1ZM183.4 122.6L179.7 122.2L181.2 119.6ZM193.9 120.8L190.3 121.7L190.9 118.7ZM203.9 120.2L200.4 121.5L200.6 118.5ZM213.7 120.0L210.3 121.4L210.4 118.4ZM223.6 119.9L220.2 121.3L220.2 118.3ZM233.5 119.8L230.1 121.3L230.1 118.3ZM40.5 135.3L39.0 131.9L42.0 131.9ZM51.2 135.2L49.2 132.1L52.2 131.6ZM61.2 135.2L59.2 132.1L62.1 131.6ZM71.1 135.2L69.0 132.1L72.0 131.6ZM80.9 135.2L78.9 132.1L81.8 131.6ZM91.3 135.1L89.0 132.2L91.8 131.4ZM101.1 135.1L98.8 132.2L101.7 131.4ZM111.1 135.1L108.7 132.2L111.6 131.4ZM121.1 135.0L118.7 132.2L121.5 131.3ZM131.0 135.0L128.5 132.2L131.4 131.3ZM141.0 134.9L138.5 132.3L141.3 131.2ZM151.8 134.5L148.8 132.3L151.4 130.8ZM162.8 133.6L159.3 132.3L161.5 130.2ZM173.3 132.9L169.7 132.2L171.4 129.7ZM183.6 132.0L179.9 132.0L181.2 129.2ZM194.0 130.1L190.5 131.3L190.7 128.3ZM203.9 129.9L200.4 131.2L200.5 128.2ZM213.8 129.7L210.3 131.2L210.3 128.2ZM223.6 129.7L220.2 131.2L220.2 128.2ZM233.5 129.7L230.1 131.2L230.1 128.2ZM40.5 145.1L39.0 141.7L42.0 141.7ZM51.4 145.0L49.3 142.0L52.2 141.4ZM61.7 144.9L59.4 142.0L62.3 141.3ZM71.6 144.9L69.2 142.0L72.1 141.3ZM81.9 144.8L79.3 142.1L82.1 141.1ZM91.7 144.8L89.2 142.1L92.0 141.1ZM101.6 144.8L99.0 142.1L101.9 141.1ZM111.9 144.6L109.1 142.2L111.8 140.9ZM121.8 144.6L119.0 142.2L121.7 140.9ZM132.1 144.4L129.1 142.2L131.7 140.7ZM142.7 143.8L139.4 142.2L141.7 140.3ZM153.3 143.1L149.7 142.1L151.6 139.8ZM163.7 142.3L160.0 141.9L161.5 139.3ZM174.0 141.4L170.3 141.7L171.3 138.9ZM184.1 140.5L180.5 141.4L181.0 138.4ZM194.0 139.5L190.6 141.0L190.6 138.0ZM203.9 139.5L200.5 141.0L200.5 138.0ZM213.8 139.5L210.3 141.0L210.3 138.0ZM223.6 139.5L220.2 141.0L220.2 138.0ZM233.5 139.5L230.1 141.0L230.1 138.0ZM40.5 155.0L39.0 151.6L42.0 151.6ZM51.8 154.8L49.5 151.9L52.4 151.1ZM62.2 154.7L59.6 152.0L62.4 150.9ZM72.0 154.7L69.5 152.0L72.3 150.9ZM81.9 154.7L79.3 152.0L82.1 150.9ZM91.7 154.7L89.2 152.0L92.0 150.9ZM102.1 154.5L99.3 152.0L102.0 150.7ZM111.9 154.5L109.1 152.0L111.8 150.7ZM122.2 154.2L119.2 152.0L121.8 150.5ZM132.5 154.0L129.3 152.1L131.8 150.3ZM143.1 153.3L139.6 152.0L141.7 149.9ZM153.6 152.6L149.9 151.9L151.7 149.4ZM163.9 151.8L160.2 151.7L161.5 149.0ZM174.1 150.8L170.4 151.4L171.2 148.5ZM184.1 150.2L180.5 151.2L181.0 148.2ZM194.0 149.4L190.6 150.9L190.6 147.9ZM203.9 149.4L200.5 150.9L200.5 147.9ZM213.8 149.4L210.3 150.9L210.3 147.9ZM223.6 149.4L220.2 150.9L220.2 147.9ZM233.5 149.4L230.1 150.9L230.1 147.9ZM40.5 164.8L39.0 161.4L42.0 161.4ZM52.8 164.3L50.0 161.9L52.7 160.6ZM63.0 164.1L60.1 161.9L62.6 160.4ZM72.9 164.1L69.9 161.9L72.5 160.4ZM82.3 164.3L79.5 161.9L82.3 160.6ZM92.2 164.3L89.4 161.9L92.1 160.6ZM102.1 164.3L99.3 161.9L102.0 160.6ZM112.4 164.1L109.4 161.9L111.9 160.4ZM122.2 164.1L119.2 161.9L121.8 160.4ZM132.5 163.8L129.3 161.9L131.8 160.2ZM143.4 162.8L139.9 161.8L141.8 159.5ZM153.8 162.1L150.1 161.6L151.6 159.1ZM164.1 161.2L160.4 161.4L161.4 158.6ZM174.2 160.4L170.6 161.2L171.2 158.2ZM184.1 159.7L180.6 160.9L180.9 157.9ZM194.0 159.2L190.6 160.8L190.6 157.8ZM203.9 159.2L200.5 160.8L200.5 157.8ZM213.8 159.2L210.3 160.8L210.3 157.8ZM223.6 159.2L220.2 160.8L220.2 157.8ZM233.5 159.2L230.1 160.8L230.1 157.8ZM41.3 174.7L39.4 171.5L42.3 171.1ZM56.0 169.1L52.6 170.6L52.6 167.6ZM64.8 172.3L61.2 171.6L62.9 169.1ZM73.7 173.4L70.4 171.8L72.7 169.8ZM82.8 174.0L79.8 171.8L82.4 170.3ZM92.2 174.2L89.4 171.7L92.1 170.5ZM102.3 174.1L99.4 171.8L102.0 170.3ZM112.4 174.0L109.4 171.8L111.9 170.3ZM122.4 173.9L119.3 171.8L121.8 170.2ZM132.7 173.5L129.4 171.8L131.8 169.9ZM143.7 172.3L140.1 171.6L141.8 169.1ZM154.1 171.5L150.3 171.4L151.6 168.7ZM164.3 170.6L160.6 171.1L161.4 168.2ZM174.2 170.1L170.6 171.0L171.1 168.0ZM184.1 169.6L180.6 170.8L180.9 167.8ZM194.0 169.1L190.6 170.6L190.6 167.6ZM203.9 169.1L200.5 170.6L200.5 167.6ZM213.8 169.1L210.3 170.6L210.3 167.6ZM223.6 169.1L220.2 170.6L220.2 167.6ZM233.5 169.1L230.1 170.6L230.1 167.6ZM38.2 173.9L41.0 176.3L38.2 177.6ZM53.2 174.1L52.8 177.8L50.2 176.3ZM65.8 179.9L62.2 180.8L62.7 177.9ZM74.1 182.9L70.6 181.6L72.7 179.5ZM81.9 184.2L79.3 181.6L82.1 180.5ZM92.2 184.0L89.4 181.6L92.1 180.3ZM102.1 184.0L99.3 181.6L102.0 180.3ZM112.4 183.8L109.4 181.6L111.9 180.1ZM122.6 183.6L119.4 181.6L121.9 179.9ZM132.9 183.3L129.5 181.6L131.8 179.7ZM143.7 182.2L140.1 181.5L141.8 179.0ZM154.1 181.3L150.3 181.3L151.6 178.5ZM164.3 180.4L160.6 181.0L161.4 178.1ZM174.3 179.7L170.7 180.8L171.1 177.8ZM184.2 179.3L180.7 180.6L180.8 177.6ZM194.0 179.0L190.6 180.5L190.6 177.5ZM203.9 179.0L200.5 180.5L200.5 177.5ZM213.8 179.0L210.3 180.5L210.3 177.5ZM223.6 179.0L220.2 180.5L220.2 177.5ZM233.5 179.0L230.1 180.5L230.1 177.5ZM35.3 186.9L39.0 186.7L37.9 189.5ZM48.5 183.6L51.0 186.2L48.2 187.3ZM55.7 185.6L59.3 186.3L57.6 188.8ZM68.2 194.1L67.9 190.4L70.8 191.4ZM80.0 194.4L78.5 191.0L81.5 191.0ZM90.8 194.3L88.7 191.3L91.7 190.7ZM101.1 194.2L98.8 191.3L101.7 190.6ZM111.9 193.9L109.1 191.5L111.8 190.2ZM122.2 193.7L119.2 191.5L121.8 190.0ZM132.9 193.1L129.5 191.5L131.8 189.6ZM143.4 192.4L139.9 191.4L141.8 189.1ZM153.8 191.6L150.1 191.2L151.6 188.6ZM164.1 190.7L160.4 191.0L161.4 188.2ZM174.2 189.8L170.6 190.7L171.1 187.7ZM184.1 189.3L180.6 190.5L180.9 187.5ZM194.0 188.8L190.6 190.3L190.6 187.3ZM203.9 188.8L200.5 190.3L200.5 187.3ZM213.8 188.8L210.3 190.3L210.3 187.3ZM223.6 188.8L220.2 190.3L220.2 187.3ZM233.5 188.8L230.1 190.3L230.1 187.3ZM35.3 200.6L37.9 198.0L39.0 200.9ZM45.5 195.9L49.2 196.3L47.7 198.9ZM54.6 198.7L58.0 197.2L58.0 200.2ZM64.5 199.2L67.8 197.4L68.0 200.4ZM76.0 202.6L77.4 199.2L79.5 201.3ZM88.9 204.2L88.0 200.6L90.9 201.1ZM100.2 204.3L98.4 201.0L101.4 200.8ZM111.0 204.1L108.7 201.2L111.6 200.4ZM121.8 203.8L119.0 201.3L121.7 200.0ZM132.9 203.0L129.5 201.3L131.8 199.4ZM143.4 202.3L139.9 201.3L141.8 199.0ZM153.8 201.5L150.1 201.1L151.6 198.5ZM164.2 200.4L160.5 200.8L161.4 197.9ZM174.3 199.5L170.7 200.5L171.1 197.5ZM184.2 199.0L180.7 200.3L180.8 197.3ZM194.0 198.7L190.6 200.2L190.6 197.2ZM203.9 198.7L200.5 200.2L200.5 197.2ZM213.8 198.7L210.3 200.2L210.3 197.2ZM223.6 198.7L220.2 200.2L220.2 197.2ZM233.5 198.7L230.1 200.2L230.1 197.2ZM35.0 209.5L38.1 207.5L38.6 210.4ZM45.1 210.5L47.8 207.9L48.8 210.7ZM55.4 211.3L57.6 208.4L59.1 210.9ZM65.8 212.1L67.5 208.8L69.4 211.1ZM76.0 212.5L77.4 209.0L79.5 211.2ZM86.1 212.7L87.2 209.2L89.5 211.2ZM98.7 214.1L97.8 210.5L100.8 211.0ZM110.0 214.1L108.2 210.9L111.2 210.6ZM123.0 212.8L119.7 211.2L122.0 209.3ZM133.6 212.1L130.0 211.1L131.9 208.8ZM144.0 211.3L140.3 210.9L141.8 208.4ZM154.3 210.5L150.5 210.7L151.6 207.9ZM164.3 209.7L160.7 210.5L161.3 207.5ZM174.3 209.0L170.8 210.2L171.0 207.2ZM184.2 208.7L180.7 210.1L180.8 207.1ZM194.0 208.5L190.6 210.0L190.6 207.0ZM203.9 208.5L200.5 210.0L200.5 207.0ZM213.8 208.5L210.3 210.0L210.3 207.0ZM223.6 208.5L220.2 210.0L220.2 207.0ZM233.5 208.5L230.1 210.0L230.1 207.0ZM35.0 218.9L38.2 217.1L38.5 220.1ZM45.5 221.2L47.7 218.2L49.2 220.8ZM56.0 222.0L57.6 218.7L59.5 221.0ZM66.5 222.7L67.5 219.1L69.8 221.1ZM78.1 223.7L77.8 220.0L80.6 221.0ZM90.5 224.0L88.6 220.8L91.6 220.4ZM102.9 223.0L99.7 221.1L102.2 219.4ZM113.5 222.4L110.0 221.0L112.2 218.9ZM124.3 221.2L120.6 220.8L122.1 218.2ZM134.3 220.8L130.6 220.7L131.9 218.0ZM144.5 219.9L140.9 220.4L141.6 217.5ZM154.6 218.9L151.1 220.1L151.3 217.1ZM164.4 218.6L161.0 220.0L161.1 217.0ZM174.3 218.4L170.9 219.9L170.9 216.9ZM184.2 218.4L180.8 219.9L180.8 216.9ZM194.0 218.4L190.6 219.9L190.6 216.9ZM203.9 218.4L200.5 219.9L200.5 216.9ZM213.8 218.4L210.3 219.9L210.3 216.9ZM223.6 218.4L220.2 219.9L220.2 216.9ZM233.5 218.4L230.1 219.9L230.1 216.9ZM35.7 231.1L37.9 228.1L39.4 230.7ZM48.5 233.5L48.2 229.8L51.0 230.9ZM58.3 233.5L58.1 229.8L60.9 230.9ZM67.3 233.1L67.7 229.4L70.3 230.9ZM77.2 233.1L77.6 229.4L80.2 230.9ZM87.5 233.3L87.5 229.6L90.3 230.9ZM101.6 233.5L99.0 230.9L101.9 229.8ZM114.4 231.1L110.7 230.7L112.2 228.1ZM124.8 229.7L121.1 230.3L121.9 227.4ZM134.8 229.2L131.2 230.1L131.7 227.2ZM144.7 228.3L141.3 229.8L141.3 226.8ZM154.6 228.3L151.2 229.8L151.2 226.8ZM164.5 228.3L161.1 229.8L161.1 226.8ZM174.3 228.3L170.9 229.8L170.9 226.8ZM184.2 228.3L180.8 229.8L180.8 226.8ZM194.0 228.3L190.6 229.8L190.6 226.8ZM203.9 228.3L200.5 229.8L200.5 226.8ZM213.8 228.3L210.3 229.8L210.3 226.8ZM223.6 228.3L220.2 229.8L220.2 226.8ZM233.5 228.3L230.1 229.8L230.1 226.8Z" fill="#000" fill-opacity="0.75"/>
<path d="M68.5 233.2V229.4M35.6 200.3H39.4M101.3 233.2V227.7M101.3 36.0V41.5M35.6 167.5H41.1M232.8 167.5H227.3M134.2 233.2V229.4M35.6 134.6H39.4M167.1 233.2V227.7M167.1 36.0V41.5M35.6 101.7H41.1M232.8 101.7H227.3M199.9 233.2V229.4M35.6 68.9H39.4" stroke="#000" stroke-opacity="0.8" stroke-width="1" fill="none"/>
<path d="M364.2 233.2V229.4M331.3 200.3H335.1M397.0 233.2V227.7M397.0 36.0V41.5M331.3 167.5H336.8M528.5 167.5H523.0M429.9 233.2V229.4M331.3 134.6H335.1M462.8 233.2V227.7M462.8 36.0V41.5M331.3 101.7H336.8M528.5 101.7H523.0M495.6 233.2V229.4M331.3 68.9H335.1" stroke="#000" stroke-opacity="0.8" stroke-width="1" fill="none"/>
<rect x="35.6" y="36.0" width="197.2" height="197.2" fill="none" stroke="#000" stroke-opacity="0.6" stroke-width="0.9"/>
<rect x="331.3" y="36.0" width="197.2" height="197.2" fill="none" stroke="#000" stroke-opacity="0.6" stroke-width="0.9"/>
<path d="M267 233.2H282M267 183.9H282M267 134.6H282M267 85.3H282M267 36.0H282M563 233.2H577.3M563 193.8H577.3M563 154.3H577.3M563 114.9H577.3M563 75.4H577.3M563 36.0H577.3" stroke="#000" stroke-opacity="0.6" stroke-width="1"/>
<text x="31.3" y="233.2" font-size="14.5" text-anchor="middle" transform="rotate(-90 31.3 233.2)">0</text>
<text x="31.3" y="167.5" font-size="14.5" text-anchor="middle" transform="rotate(-90 31.3 167.5)">0.2</text>
<text x="31.3" y="101.7" font-size="14.5" text-anchor="middle" transform="rotate(-90 31.3 101.7)">0.4</text>
<text x="31.3" y="36.0" font-size="14.5" text-anchor="middle" transform="rotate(-90 31.3 36.0)">0.6</text>
<text x="101.3" y="248.0" font-size="14.5" text-anchor="middle">0.2</text>
<text x="167.1" y="248.0" font-size="14.5" text-anchor="middle">0.4</text>
<text x="232.8" y="248.0" font-size="14.5" text-anchor="middle">0.6</text>
<text x="134.2" y="268.2" font-size="20" text-anchor="middle" stroke="#000" stroke-width="0.2" word-spacing="1.6">r / r<tspan font-size="10.5" dy="2">B</tspan></text>
<text x="15.0" y="136.6" font-size="20" text-anchor="middle" stroke="#000" stroke-width="0.2" word-spacing="1.0" transform="rotate(-90 15.0 136.6)">z / r<tspan font-size="10.5" dy="2">B</tspan></text>
<text x="327.0" y="233.2" font-size="14.5" text-anchor="middle" transform="rotate(-90 327.0 233.2)">0</text>
<text x="327.0" y="167.5" font-size="14.5" text-anchor="middle" transform="rotate(-90 327.0 167.5)">0.2</text>
<text x="327.0" y="101.7" font-size="14.5" text-anchor="middle" transform="rotate(-90 327.0 101.7)">0.4</text>
<text x="327.0" y="36.0" font-size="14.5" text-anchor="middle" transform="rotate(-90 327.0 36.0)">0.6</text>
<text x="397.0" y="248.0" font-size="14.5" text-anchor="middle">0.2</text>
<text x="462.8" y="248.0" font-size="14.5" text-anchor="middle">0.4</text>
<text x="528.5" y="248.0" font-size="14.5" text-anchor="middle">0.6</text>
<text x="429.9" y="268.2" font-size="20" text-anchor="middle" stroke="#000" stroke-width="0.2" word-spacing="1.6">r / r<tspan font-size="10.5" dy="2">B</tspan></text>
<text x="311.0" y="136.6" font-size="20" text-anchor="middle" stroke="#000" stroke-width="0.2" word-spacing="1.0" transform="rotate(-90 311.0 136.6)">z / r<tspan font-size="10.5" dy="2">B</tspan></text>
<text x="263.0" y="233.2" font-size="14.5" text-anchor="middle" transform="rotate(-90 263.0 233.2)">0</text>
<text x="263.0" y="183.9" font-size="14.5" text-anchor="middle" transform="rotate(-90 263.0 183.9)">1</text>
<text x="263.0" y="134.6" font-size="14.5" text-anchor="middle" transform="rotate(-90 263.0 134.6)">2</text>
<text x="263.0" y="85.3" font-size="14.5" text-anchor="middle" transform="rotate(-90 263.0 85.3)">3</text>
<text x="263.0" y="36.0" font-size="14.5" text-anchor="middle" transform="rotate(-90 263.0 36.0)">4</text>
<text x="558.0" y="233.2" font-size="14.5" text-anchor="middle" transform="rotate(-90 558.0 233.2)">−1.5</text>
<text x="558.0" y="193.8" font-size="14.5" text-anchor="middle" transform="rotate(-90 558.0 193.8)">−1</text>
<text x="558.0" y="154.3" font-size="14.5" text-anchor="middle" transform="rotate(-90 558.0 154.3)">−0.5</text>
<text x="558.0" y="114.9" font-size="14.5" text-anchor="middle" transform="rotate(-90 558.0 114.9)">0</text>
<text x="558.0" y="75.4" font-size="14.5" text-anchor="middle" transform="rotate(-90 558.0 75.4)">0.5</text>
<text x="558.0" y="36.0" font-size="14.5" text-anchor="middle" transform="rotate(-90 558.0 36.0)">1</text>
<text x="224.0" y="23.6" font-size="13.5" stroke="#000" stroke-width="0.15">log<tspan font-size="9.5" dy="2">10</tspan><tspan dy="-2">(ρ/ρ</tspan><tspan font-size="9.5" dy="2">0</tspan><tspan dy="-2">)</tspan></text>
<text x="499.5" y="19.5" font-size="13" stroke="#000" stroke-width="0.2">log</text>
<text x="515.8" y="21.6" font-size="9.5">10</text>
<text x="524.9" y="19.6" font-size="19.5">(</text>
<text x="571.2" y="19.6" font-size="19.5">)</text>
<path d="M534.1 7.6L535.3 6.9L537.1 11.4L540.3 1.0" stroke="#000" stroke-width="1.0" fill="none" stroke-linejoin="miter"/>
<path d="M540.2 1.0H571.8" stroke="#333" stroke-width="0.8" fill="none"/>
<path d="M532.6 14.0H571.8" stroke="#000" stroke-width="0.9"/>
<text font-size="9.2" stroke="#000" stroke-width="0.3"><tspan x="541.3" y="10.8">v</tspan><tspan x="561.9" y="10.8">v</tspan></text>
<text font-size="6.2"><tspan x="545.3" y="12.0">z</tspan><tspan x="566.0" y="12.0">r</tspan></text>
<text font-size="7" stroke="#000" stroke-width="0.15"><tspan x="547.7" y="8.9">2</tspan><tspan x="568.4" y="8.9">2</tspan></text>
<text x="553.2" y="10.9" font-size="9.5" stroke="#000" stroke-width="0.3">+</text>
<text x="546.6" y="24.4" font-size="10">c</text>
<text x="550.8" y="25.8" font-size="6.5">iso</text>
</svg>
</body></html>
